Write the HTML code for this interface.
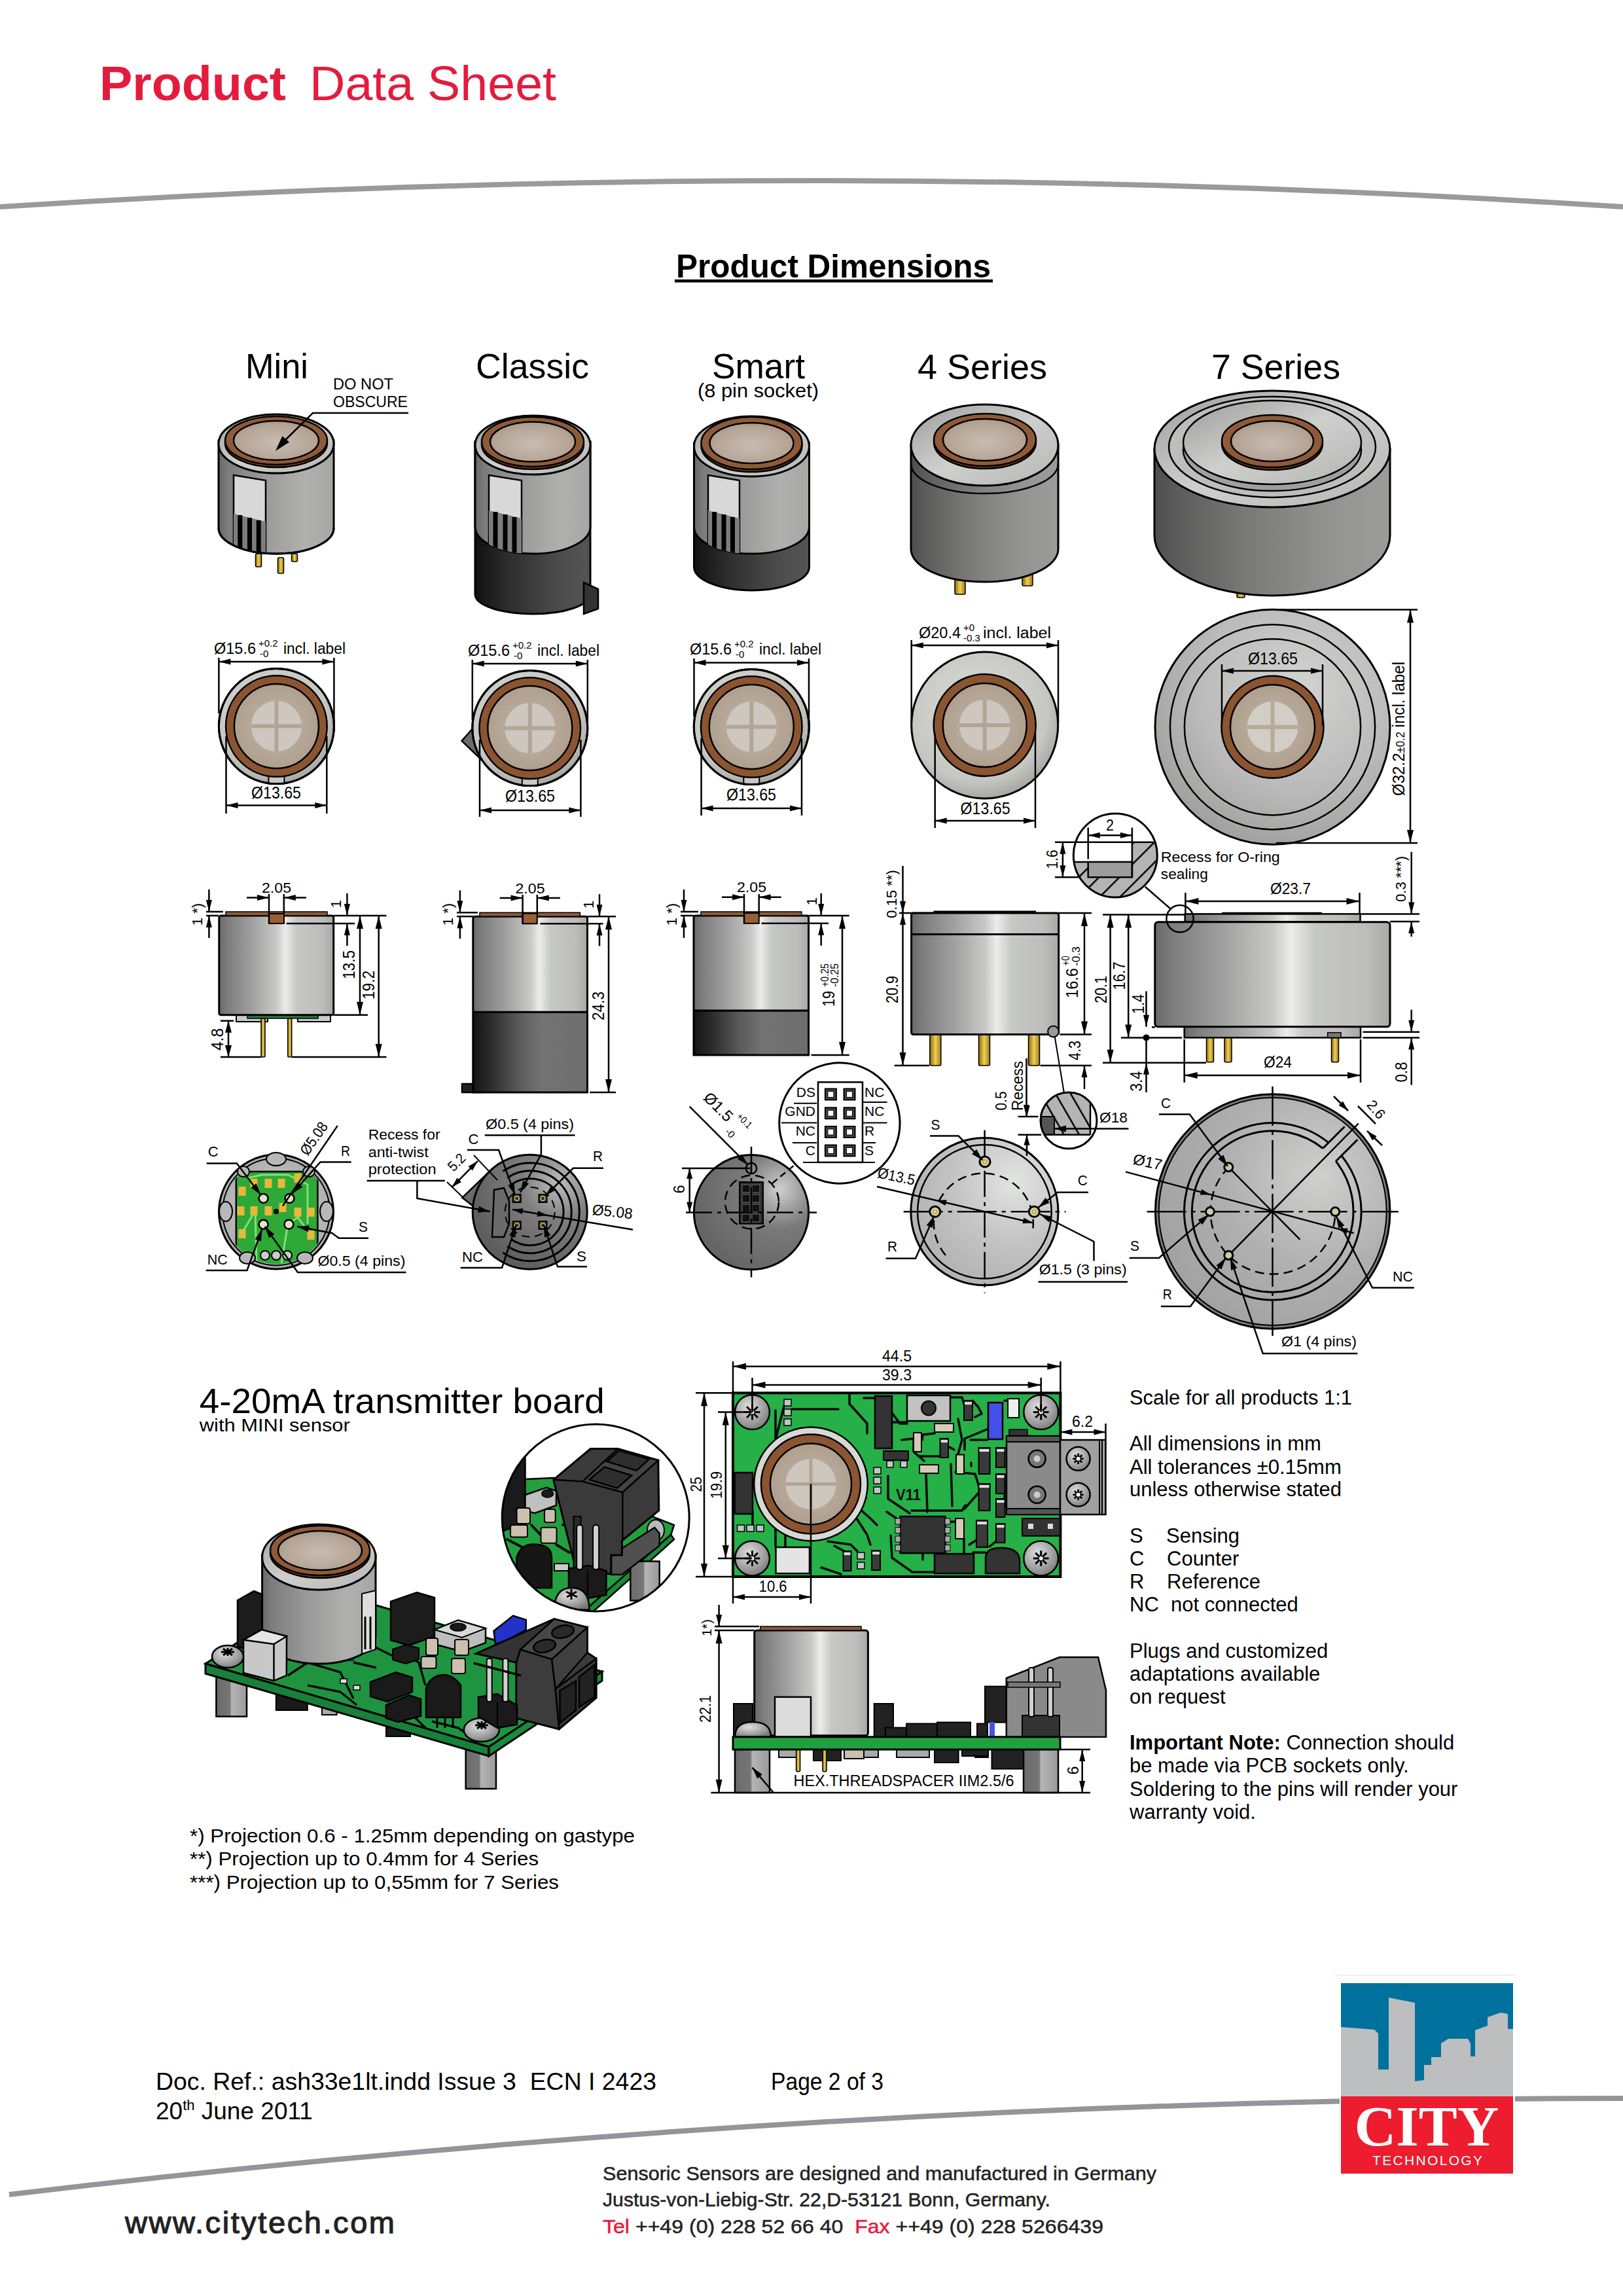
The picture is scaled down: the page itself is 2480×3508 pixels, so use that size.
<!DOCTYPE html>
<html><head><meta charset="utf-8"><style>
html,body{margin:0;padding:0;background:#fff;width:2480px;height:3508px;overflow:hidden}
svg{display:block}
</style></head><body>
<svg width="2480" height="3508" viewBox="0 0 2480 3508">
<defs>

<linearGradient id="gBody" x1="0" x2="1" y1="0" y2="0">
 <stop offset="0" stop-color="#686868"/><stop offset="0.08" stop-color="#7c7c7c"/>
 <stop offset="0.4" stop-color="#9a9a9a"/><stop offset="0.75" stop-color="#b0b0ae"/>
 <stop offset="1" stop-color="#a6a6a4"/>
</linearGradient>
<linearGradient id="gBody7" x1="0" x2="1" y1="0" y2="0">
 <stop offset="0" stop-color="#4e4e4e"/><stop offset="0.1" stop-color="#5c5c5c"/>
 <stop offset="0.4" stop-color="#7a7a78"/><stop offset="0.75" stop-color="#939391"/>
 <stop offset="1" stop-color="#9c9c9a"/>
</linearGradient>
<linearGradient id="gDark" x1="0" x2="1" y1="0" y2="0">
 <stop offset="0" stop-color="#111"/><stop offset="0.3" stop-color="#2e2e2e"/>
 <stop offset="0.7" stop-color="#4a4a4a"/><stop offset="1" stop-color="#555"/>
</linearGradient>
<linearGradient id="gRim" x1="0" x2="1" y1="0" y2="1">
 <stop offset="0" stop-color="#9c9c9c"/><stop offset="0.5" stop-color="#cfcfcd"/><stop offset="1" stop-color="#b5b5b3"/>
</linearGradient>
<radialGradient id="gFilt" cx="0.5" cy="0.55" r="0.6">
 <stop offset="0" stop-color="#c8bcb2"/><stop offset="0.7" stop-color="#b6a698"/><stop offset="1" stop-color="#a89686"/>
</radialGradient>
<linearGradient id="gSide" x1="0" x2="1" y1="0" y2="0">
 <stop offset="0" stop-color="#6e6e6e"/><stop offset="0.1" stop-color="#8e8e8e"/>
 <stop offset="0.42" stop-color="#b8b8b6"/><stop offset="0.55" stop-color="#e6e6e4"/>
 <stop offset="0.68" stop-color="#b0b0ae"/><stop offset="1" stop-color="#8a8a88"/>
</linearGradient>
<linearGradient id="gSideDark" x1="0" x2="1" y1="0" y2="0">
 <stop offset="0" stop-color="#2a2a2a"/><stop offset="0.5" stop-color="#4a4a4a"/>
 <stop offset="0.6" stop-color="#5a5a5a"/><stop offset="1" stop-color="#3a3a3a"/>
</linearGradient>
<linearGradient id="gGold" x1="0" x2="1" y1="0" y2="0">
 <stop offset="0" stop-color="#8a6a10"/><stop offset="0.5" stop-color="#f0d050"/><stop offset="1" stop-color="#9a7a20"/>
</linearGradient>

<radialGradient id="gTopRim" cx="0.45" cy="0.4" r="0.6">
 <stop offset="0" stop-color="#dcdcd8"/><stop offset="0.8" stop-color="#c6c6c2"/><stop offset="1" stop-color="#a8a8a4"/>
</radialGradient>
<radialGradient id="gFilt2" cx="0.5" cy="0.5" r="0.55">
 <stop offset="0" stop-color="#c2b6a8"/><stop offset="1" stop-color="#ad9d8c"/>
</radialGradient>
<radialGradient id="gTop7" cx="0.6" cy="0.35" r="0.7">
 <stop offset="0" stop-color="#d4d4d2"/><stop offset="0.6" stop-color="#bababa"/><stop offset="1" stop-color="#9e9e9c"/>
</radialGradient>

<linearGradient id="gS" x1="0" x2="1" y1="0" y2="0">
 <stop offset="0" stop-color="#6a6a6a"/><stop offset="0.08" stop-color="#7e7e7e"/>
 <stop offset="0.3" stop-color="#a2a2a2"/><stop offset="0.5" stop-color="#c8c8c6"/>
 <stop offset="0.58" stop-color="#ececea"/><stop offset="0.68" stop-color="#c6c8c4"/>
 <stop offset="0.9" stop-color="#bdbdbb"/><stop offset="1" stop-color="#a8a8a6"/>
</linearGradient>
<linearGradient id="gSD" x1="0" x2="1" y1="0" y2="0">
 <stop offset="0" stop-color="#141414"/><stop offset="0.15" stop-color="#2a2a2a"/>
 <stop offset="0.4" stop-color="#5a5a5a"/><stop offset="0.6" stop-color="#737373"/>
 <stop offset="1" stop-color="#6e6e6e"/>
</linearGradient>
<pattern id="hatch" patternUnits="userSpaceOnUse" width="22" height="22" patternTransform="rotate(45)">
 <rect width="22" height="22" fill="#b4b4b4"/><rect width="2.5" height="22" fill="#000"/>
</pattern>
<pattern id="hatch2" patternUnits="userSpaceOnUse" width="20" height="20" patternTransform="rotate(-30)">
 <rect width="20" height="20" fill="#b4b4b4"/><rect width="2.5" height="20" fill="#000"/>
</pattern>

<radialGradient id="gB4" cx="0.7" cy="0.3" r="0.8">
 <stop offset="0" stop-color="#e2e4e2"/><stop offset="0.5" stop-color="#c4c4c4"/><stop offset="1" stop-color="#b0b0b0"/>
</radialGradient>
<radialGradient id="gBS" cx="0.75" cy="0.3" r="0.75">
 <stop offset="0" stop-color="#cfcfcf"/><stop offset="0.45" stop-color="#7a7a7a"/><stop offset="1" stop-color="#666"/>
</radialGradient>
<radialGradient id="gBC" cx="0.75" cy="0.25" r="0.8">
 <stop offset="0" stop-color="#bdbdbd"/><stop offset="0.4" stop-color="#7e7e7e"/><stop offset="1" stop-color="#5e5e5e"/>
</radialGradient>
<radialGradient id="gB7" cx="0.7" cy="0.35" r="0.8">
 <stop offset="0" stop-color="#cfd0ce"/><stop offset="0.5" stop-color="#b0b0b0"/><stop offset="1" stop-color="#a0a0a0"/>
</radialGradient>
<radialGradient id="gBM" cx="0.5" cy="0.5" r="0.55">
 <stop offset="0" stop-color="#d8d8d8"/><stop offset="1" stop-color="#a8a8a8"/>
</radialGradient>

<radialGradient id="gScrew" cx="0.4" cy="0.35" r="0.7">
 <stop offset="0" stop-color="#e0e0e0"/><stop offset="0.7" stop-color="#9a9a9a"/><stop offset="1" stop-color="#777"/>
</radialGradient>
<linearGradient id="gStand" x1="0" x2="1" y1="0" y2="0">
 <stop offset="0" stop-color="#6a6a6a"/><stop offset="0.45" stop-color="#777"/><stop offset="0.5" stop-color="#b5b5b5"/><stop offset="1" stop-color="#9a9a9a"/>
</linearGradient>
<linearGradient id="gTB" x1="0" x2="1" y1="0" y2="0">
 <stop offset="0" stop-color="#8a8a8a"/><stop offset="1" stop-color="#9a9a9a"/>
</linearGradient>

</defs>
<text x="152" y="153" font-size="75" font-family="Liberation Sans" fill="#e31c3d" font-weight="bold" textLength="285" lengthAdjust="spacingAndGlyphs" >Product</text>
<text x="473" y="153" font-size="75" font-family="Liberation Sans" fill="#e31c3d" textLength="377" lengthAdjust="spacingAndGlyphs" >Data Sheet</text>
<path d="M0,316 Q1240,236 2480,316" fill="none" stroke="#9a9a9a" stroke-width="8" />
<text x="1033" y="424" font-size="50" font-family="Liberation Sans" fill="#000" font-weight="bold" textLength="481" lengthAdjust="spacingAndGlyphs" >Product Dimensions</text>
<rect x="1031" y="427" width="486" height="4.5" fill="#000"/>
<text x="375" y="578" font-size="53" font-family="Liberation Sans" fill="#000" textLength="96" lengthAdjust="spacingAndGlyphs" >Mini</text>
<text x="509" y="595" font-size="23" font-family="Liberation Sans" fill="#000" textLength="92" lengthAdjust="spacingAndGlyphs" >DO NOT</text>
<text x="509" y="622" font-size="23" font-family="Liberation Sans" fill="#000" textLength="114" lengthAdjust="spacingAndGlyphs" >OBSCURE</text>
<text x="727" y="578" font-size="53" font-family="Liberation Sans" fill="#000" textLength="173" lengthAdjust="spacingAndGlyphs" >Classic</text>
<text x="1088" y="578" font-size="53" font-family="Liberation Sans" fill="#000" textLength="142" lengthAdjust="spacingAndGlyphs" >Smart</text>
<text x="1066" y="607" font-size="29" font-family="Liberation Sans" fill="#000" textLength="185" lengthAdjust="spacingAndGlyphs" >(8 pin socket)</text>
<text x="1402" y="579" font-size="53" font-family="Liberation Sans" fill="#000" textLength="198" lengthAdjust="spacingAndGlyphs" >4 Series</text>
<text x="1851" y="579" font-size="53" font-family="Liberation Sans" fill="#000" textLength="197" lengthAdjust="spacingAndGlyphs" >7 Series</text>
<path d="M334,673 L334,807 A88,39 0 0 0 510,807 L510,673 Z" fill="url(#gBody)" stroke="#000" stroke-width="3" />
<clipPath id="lbc1"><path d="M334,673 L334,807 A88,39 0 0 0 510,807 L510,673 Z"/></clipPath>
<g clip-path="url(#lbc1)">
<path d="M357,726 L406,734 L406,850 L357,850 Z" fill="#d8d8d8" stroke="#000" stroke-width="2.5"/>
<path d="M357,785 L406,797 L406,850 L357,850 Z" fill="#7d7d7d"/>
<rect x="363.3" y="787" width="7" height="59" fill="#000"/>
<rect x="378.0" y="791" width="7" height="59" fill="#000"/>
<rect x="391.72" y="795" width="7" height="59" fill="#000"/>
</g>
<path d="M334,807 A88,39 0 0 0 510,807" fill="none" stroke="#000" stroke-width="3" />
<rect x="390.5" y="846" width="9" height="20" rx="2" fill="url(#gGold)" stroke="#000" stroke-width="1.5"/>
<rect x="424.5" y="852" width="9" height="24" rx="2" fill="url(#gGold)" stroke="#000" stroke-width="1.5"/>
<rect x="445.5" y="846" width="9" height="12" rx="2" fill="url(#gGold)" stroke="#000" stroke-width="1.5"/>
<ellipse cx="422" cy="678" rx="88" ry="45" fill="url(#gRim)" stroke="#000" stroke-width="3" />
<ellipse cx="422" cy="677" rx="78" ry="37" fill="#6b4028" stroke="#000" stroke-width="2.5" />
<ellipse cx="422" cy="673" rx="78" ry="37" fill="#8f5a38" stroke="#000" stroke-width="2.5" />
<ellipse cx="422" cy="673" rx="65" ry="30" fill="url(#gFilt)" stroke="#000" stroke-width="2.5" />
<path d="M624,631 L478,631 L428,680" fill="none" stroke="#000" stroke-width="2.5" />
<polygon points="421.0,689.0 431.4,666.3 442.0,675.4" fill="#000"/>
<path d="M726,675 L726,908 A88,30 0 0 0 902,908 L902,675 Z" fill="url(#gDark)" stroke="#000" stroke-width="3" />
<polygon points="892,890 914,900 914,930 892,938" fill="#333" stroke="#000" stroke-width="2.5"/>
<path d="M726,675 L726,805 A88,41 0 0 0 902,805 L902,675 Z" fill="url(#gBody)" stroke="#000" stroke-width="3" />
<clipPath id="lbc2"><path d="M726,675 L726,805 A88,41 0 0 0 902,805 L902,675 Z"/></clipPath>
<g clip-path="url(#lbc2)">
<path d="M747,726 L797,734 L797,850 L747,850 Z" fill="#d8d8d8" stroke="#000" stroke-width="2.5"/>
<path d="M747,780 L797,792 L797,850 L747,850 Z" fill="#7d7d7d"/>
<rect x="753.5" y="782" width="7" height="64" fill="#000"/>
<rect x="768.5" y="786" width="7" height="64" fill="#000"/>
<rect x="782.5" y="790" width="7" height="64" fill="#000"/>
</g>
<ellipse cx="814" cy="680" rx="88" ry="45" fill="url(#gRim)" stroke="#000" stroke-width="3" />
<ellipse cx="814" cy="679" rx="78" ry="38" fill="#6b4028" stroke="#000" stroke-width="2.5" />
<ellipse cx="814" cy="675" rx="78" ry="38" fill="#8f5a38" stroke="#000" stroke-width="2.5" />
<ellipse cx="814" cy="675" rx="65" ry="30.5" fill="url(#gFilt)" stroke="#000" stroke-width="2.5" />
<path d="M1060.5,677 L1060.5,866 A88,36 0 0 0 1236.5,866 L1236.5,677 Z" fill="url(#gDark)" stroke="#000" stroke-width="3" />
<path d="M1060.5,677 L1060.5,805 A88,41 0 0 0 1236.5,805 L1236.5,677 Z" fill="url(#gBody)" stroke="#000" stroke-width="3" />
<clipPath id="lbc3"><path d="M1060.5,677 L1060.5,805 A88,41 0 0 0 1236.5,805 L1236.5,677 Z"/></clipPath>
<g clip-path="url(#lbc3)">
<path d="M1082,726 L1130,734 L1130,850 L1082,850 Z" fill="#d8d8d8" stroke="#000" stroke-width="2.5"/>
<path d="M1082,780 L1130,792 L1130,850 L1082,850 Z" fill="#7d7d7d"/>
<rect x="1088.1" y="782" width="7" height="64" fill="#000"/>
<rect x="1102.5" y="786" width="7" height="64" fill="#000"/>
<rect x="1115.94" y="790" width="7" height="64" fill="#000"/>
</g>
<ellipse cx="1148.5" cy="682" rx="88" ry="46" fill="url(#gRim)" stroke="#000" stroke-width="3" />
<ellipse cx="1148.5" cy="681" rx="77" ry="40" fill="#6b4028" stroke="#000" stroke-width="2.5" />
<ellipse cx="1148.5" cy="677" rx="77" ry="40" fill="#8f5a38" stroke="#000" stroke-width="2.5" />
<ellipse cx="1148.5" cy="677" rx="64" ry="31" fill="url(#gFilt)" stroke="#000" stroke-width="2.5" />
<rect x="1459.0" y="870" width="16" height="38" rx="2" fill="url(#gGold)" stroke="#000" stroke-width="1.5"/>
<rect x="1562.0" y="860" width="16" height="35" rx="2" fill="url(#gGold)" stroke="#000" stroke-width="1.5"/>
<path d="M1392.0,680 L1392.0,839 A112.5,50 0 0 0 1617.0,839 L1617.0,680 Z" fill="url(#gBody7)" stroke="#000" stroke-width="3" />
<path d="M1392.0,709 A112.5,45 0 0 0 1617.0,709" fill="none" stroke="#000" stroke-width="2.5" />
<ellipse cx="1504.5" cy="680" rx="112.5" ry="62" fill="url(#gRim)" stroke="#000" stroke-width="3" />
<ellipse cx="1505" cy="676" rx="78" ry="40" fill="#6b4028" stroke="#000" stroke-width="2.5" />
<ellipse cx="1505" cy="672" rx="78" ry="40" fill="#8f5a38" stroke="#000" stroke-width="2.5" />
<ellipse cx="1505" cy="672" rx="64" ry="32" fill="url(#gFilt)" stroke="#000" stroke-width="2.5" />
<rect x="1890.0" y="890" width="12" height="23" rx="2" fill="url(#gGold)" stroke="#000" stroke-width="1.5"/>
<path d="M1764,686 L1764,818 A180,92 0 0 0 2124,818 L2124,686 Z" fill="url(#gBody7)" stroke="#000" stroke-width="3" />
<ellipse cx="1944" cy="686" rx="180" ry="89" fill="url(#gRim)" stroke="#000" stroke-width="3" />
<ellipse cx="1944" cy="683" rx="158" ry="77" fill="#bdbdbb" stroke="#000" stroke-width="2.5" />
<ellipse cx="1944" cy="688" rx="136" ry="62" fill="#9f9f9d" stroke="#000" stroke-width="2.5" />
<ellipse cx="1944" cy="676" rx="136" ry="64" fill="url(#gRim)" stroke="#000" stroke-width="2.5" />
<ellipse cx="1944" cy="678" rx="77" ry="40" fill="#6b4028" stroke="#000" stroke-width="2.5" />
<ellipse cx="1944" cy="674" rx="77" ry="40" fill="#8f5a38" stroke="#000" stroke-width="2.5" />
<ellipse cx="1944" cy="674" rx="63" ry="31" fill="url(#gFilt)" stroke="#000" stroke-width="2.5" />
<line x1="334.4" y1="1005" x2="334.4" y2="1090" stroke="#000" stroke-width="2.5" />
<line x1="510.4" y1="1005" x2="510.4" y2="1118" stroke="#000" stroke-width="2.5" />
<circle cx="422.4" cy="1109.5" r="88" fill="url(#gTopRim)" stroke="#000" stroke-width="3" />
<rect x="410.4" y="1184.5" width="24" height="13" fill="#c8c8c4" stroke="#000" stroke-width="2"/>
<circle cx="422.4" cy="1109.5" r="88" fill="none" stroke="#000" stroke-width="3" />
<circle cx="422.4" cy="1109.5" r="70.9" fill="none" stroke="#8a5530" stroke-width="12.799999999999997" />
<circle cx="422.4" cy="1109.5" r="77.3" fill="none" stroke="#000" stroke-width="2.5" />
<circle cx="422.4" cy="1109.5" r="64.5" fill="url(#gFilt2)" stroke="#000" stroke-width="2.5" />
<circle cx="422.4" cy="1109.5" r="38.699999999999996" fill="#cdc7bf" stroke="none" stroke-width="0" />
<rect x="419.4" y="1070.8" width="6" height="77.39999999999999" fill="#b3a596"/>
<rect x="383.7" y="1106.5" width="77.39999999999999" height="6" fill="#b3a596"/>
<line x1="334.4" y1="1011" x2="510.4" y2="1011" stroke="#000" stroke-width="2.5" />
<polygon points="510.4,1011.0 492.4,1015.5 492.4,1006.5" fill="#000"/>
<polygon points="334.4,1011.0 352.4,1006.5 352.4,1015.5" fill="#000"/>
<text x="327" y="999" font-size="23" font-family="Liberation Sans" fill="#000" textLength="64" lengthAdjust="spacingAndGlyphs" >Ø15.6</text>
<text x="395" y="988" font-size="15" font-family="Liberation Sans" fill="#000" >+0.2</text>
<text x="397" y="1004" font-size="15" font-family="Liberation Sans" fill="#000" >-0</text>
<text x="433" y="999" font-size="23" font-family="Liberation Sans" fill="#000" textLength="95" lengthAdjust="spacingAndGlyphs" >incl. label</text>
<line x1="345.5" y1="1125" x2="345.5" y2="1243" stroke="#000" stroke-width="2.5" />
<line x1="499.3" y1="1125" x2="499.3" y2="1243" stroke="#000" stroke-width="2.5" />
<line x1="345.5" y1="1230.6" x2="499.3" y2="1230.6" stroke="#000" stroke-width="2.5" />
<polygon points="499.3,1230.6 481.3,1235.1 481.3,1226.1" fill="#000"/>
<polygon points="345.5,1230.6 363.5,1226.1 363.5,1235.1" fill="#000"/>
<text x="384" y="1219.5" font-size="26" font-family="Liberation Sans" fill="#000" textLength="76" lengthAdjust="spacingAndGlyphs" >Ø13.65</text>
<polygon points="705.5,1132 725,1110 740,1165" fill="#6a6a6a" stroke="#000" stroke-width="2.5"/>
<line x1="721.8" y1="1008" x2="721.8" y2="1100" stroke="#000" stroke-width="2.5" />
<line x1="897.8" y1="1008" x2="897.8" y2="1120" stroke="#000" stroke-width="2.5" />
<circle cx="809.8" cy="1112.6" r="88" fill="url(#gTopRim)" stroke="#000" stroke-width="3" />
<rect x="797.8" y="1187.6" width="24" height="13" fill="#c8c8c4" stroke="#000" stroke-width="2"/>
<circle cx="809.8" cy="1112.6" r="88" fill="none" stroke="#000" stroke-width="3" />
<circle cx="809.8" cy="1112.6" r="70.9" fill="none" stroke="#8a5530" stroke-width="12.799999999999997" />
<circle cx="809.8" cy="1112.6" r="77.3" fill="none" stroke="#000" stroke-width="2.5" />
<circle cx="809.8" cy="1112.6" r="64.5" fill="url(#gFilt2)" stroke="#000" stroke-width="2.5" />
<circle cx="809.8" cy="1112.6" r="38.699999999999996" fill="#cdc7bf" stroke="none" stroke-width="0" />
<rect x="806.8" y="1073.8999999999999" width="6" height="77.39999999999999" fill="#b3a596"/>
<rect x="771.0999999999999" y="1109.6" width="77.39999999999999" height="6" fill="#b3a596"/>
<line x1="721.8" y1="1014" x2="897.8" y2="1014" stroke="#000" stroke-width="2.5" />
<polygon points="897.8,1014.0 879.8,1018.5 879.8,1009.5" fill="#000"/>
<polygon points="721.8,1014.0 739.8,1009.5 739.8,1018.5" fill="#000"/>
<text x="715" y="1002" font-size="23" font-family="Liberation Sans" fill="#000" textLength="64" lengthAdjust="spacingAndGlyphs" >Ø15.6</text>
<text x="783" y="991" font-size="15" font-family="Liberation Sans" fill="#000" >+0.2</text>
<text x="785" y="1007" font-size="15" font-family="Liberation Sans" fill="#000" >-0</text>
<text x="821" y="1002" font-size="23" font-family="Liberation Sans" fill="#000" textLength="95" lengthAdjust="spacingAndGlyphs" >incl. label</text>
<line x1="733" y1="1130" x2="733" y2="1248" stroke="#000" stroke-width="2.5" />
<line x1="887.4" y1="1130" x2="887.4" y2="1248" stroke="#000" stroke-width="2.5" />
<line x1="733" y1="1238" x2="887.4" y2="1238" stroke="#000" stroke-width="2.5" />
<polygon points="887.4,1238.0 869.4,1242.5 869.4,1233.5" fill="#000"/>
<polygon points="733.0,1238.0 751.0,1233.5 751.0,1242.5" fill="#000"/>
<text x="772" y="1224.7" font-size="26" font-family="Liberation Sans" fill="#000" textLength="76" lengthAdjust="spacingAndGlyphs" >Ø13.65</text>
<line x1="1060.5" y1="1006" x2="1060.5" y2="1095" stroke="#000" stroke-width="2.5" />
<line x1="1236" y1="1006" x2="1236" y2="1118" stroke="#000" stroke-width="2.5" />
<circle cx="1148.3" cy="1110.5" r="88" fill="url(#gTopRim)" stroke="#000" stroke-width="3" />
<rect x="1136.3" y="1185.5" width="24" height="13" fill="#c8c8c4" stroke="#000" stroke-width="2"/>
<circle cx="1148.3" cy="1110.5" r="88" fill="none" stroke="#000" stroke-width="3" />
<circle cx="1148.3" cy="1110.5" r="70.9" fill="none" stroke="#8a5530" stroke-width="12.799999999999997" />
<circle cx="1148.3" cy="1110.5" r="77.3" fill="none" stroke="#000" stroke-width="2.5" />
<circle cx="1148.3" cy="1110.5" r="64.5" fill="url(#gFilt2)" stroke="#000" stroke-width="2.5" />
<circle cx="1148.3" cy="1110.5" r="38.699999999999996" fill="#cdc7bf" stroke="none" stroke-width="0" />
<rect x="1145.3" y="1071.8" width="6" height="77.39999999999999" fill="#b3a596"/>
<rect x="1109.6" y="1107.5" width="77.39999999999999" height="6" fill="#b3a596"/>
<line x1="1060.5" y1="1012.5" x2="1236" y2="1012.5" stroke="#000" stroke-width="2.5" />
<polygon points="1236.0,1012.5 1218.0,1017.0 1218.0,1008.0" fill="#000"/>
<polygon points="1060.5,1012.5 1078.5,1008.0 1078.5,1017.0" fill="#000"/>
<text x="1054" y="1000" font-size="23" font-family="Liberation Sans" fill="#000" textLength="64" lengthAdjust="spacingAndGlyphs" >Ø15.6</text>
<text x="1122" y="989" font-size="15" font-family="Liberation Sans" fill="#000" >+0.2</text>
<text x="1124" y="1005" font-size="15" font-family="Liberation Sans" fill="#000" >-0</text>
<text x="1160" y="1000" font-size="23" font-family="Liberation Sans" fill="#000" textLength="95" lengthAdjust="spacingAndGlyphs" >incl. label</text>
<line x1="1071.6" y1="1128" x2="1071.6" y2="1246" stroke="#000" stroke-width="2.5" />
<line x1="1225" y1="1128" x2="1225" y2="1246" stroke="#000" stroke-width="2.5" />
<line x1="1071.6" y1="1235" x2="1225" y2="1235" stroke="#000" stroke-width="2.5" />
<polygon points="1225.0,1235.0 1207.0,1239.5 1207.0,1230.5" fill="#000"/>
<polygon points="1071.6,1235.0 1089.6,1230.5 1089.6,1239.5" fill="#000"/>
<text x="1110" y="1223" font-size="26" font-family="Liberation Sans" fill="#000" textLength="76" lengthAdjust="spacingAndGlyphs" >Ø13.65</text>
<line x1="1392.7" y1="978" x2="1392.7" y2="1105" stroke="#000" stroke-width="2.5" />
<line x1="1617" y1="978" x2="1617" y2="1105" stroke="#000" stroke-width="2.5" />
<circle cx="1504.7" cy="1108" r="112" fill="url(#gTopRim)" stroke="#000" stroke-width="3" />
<circle cx="1504.7" cy="1108" r="71" fill="none" stroke="#8a5530" stroke-width="14" />
<circle cx="1504.7" cy="1108" r="78" fill="none" stroke="#000" stroke-width="2.5" />
<circle cx="1504.7" cy="1108" r="64" fill="url(#gFilt2)" stroke="#000" stroke-width="2.5" />
<circle cx="1504.7" cy="1108" r="39" fill="#cdc7bf" stroke="none" stroke-width="0" />
<rect x="1501.7" y="1069" width="6" height="78" fill="#b3a596"/>
<rect x="1465.7" y="1105" width="78" height="6" fill="#b3a596"/>
<line x1="1392.7" y1="986" x2="1617" y2="986" stroke="#000" stroke-width="2.5" />
<polygon points="1617.0,986.0 1599.0,990.5 1599.0,981.5" fill="#000"/>
<polygon points="1392.7,986.0 1410.7,981.5 1410.7,990.5" fill="#000"/>
<text x="1404" y="975" font-size="23" font-family="Liberation Sans" fill="#000" textLength="64" lengthAdjust="spacingAndGlyphs" >Ø20.4</text>
<text x="1472" y="964" font-size="15" font-family="Liberation Sans" fill="#000" >+0</text>
<text x="1472" y="980" font-size="15" font-family="Liberation Sans" fill="#000" >-0.3</text>
<text x="1502" y="975" font-size="23" font-family="Liberation Sans" fill="#000" textLength="104" lengthAdjust="spacingAndGlyphs" >incl. label</text>
<line x1="1428.7" y1="1120" x2="1428.7" y2="1265" stroke="#000" stroke-width="2.5" />
<line x1="1582" y1="1120" x2="1582" y2="1265" stroke="#000" stroke-width="2.5" />
<line x1="1428.7" y1="1254" x2="1582" y2="1254" stroke="#000" stroke-width="2.5" />
<polygon points="1582.0,1254.0 1564.0,1258.5 1564.0,1249.5" fill="#000"/>
<polygon points="1428.7,1254.0 1446.7,1249.5 1446.7,1258.5" fill="#000"/>
<text x="1467.6" y="1244" font-size="26" font-family="Liberation Sans" fill="#000" textLength="76" lengthAdjust="spacingAndGlyphs" >Ø13.65</text>
<circle cx="1944.5" cy="1110.8" r="179.5" fill="url(#gTop7)" stroke="#000" stroke-width="3" />
<circle cx="1944.5" cy="1110.8" r="156.6" fill="none" stroke="#000" stroke-width="2.5" />
<circle cx="1944.5" cy="1110.8" r="134.6" fill="none" stroke="#000" stroke-width="2.5" />
<circle cx="1944.5" cy="1110.8" r="71" fill="none" stroke="#8a5530" stroke-width="13" />
<circle cx="1944.5" cy="1110.8" r="78" fill="none" stroke="#000" stroke-width="2.5" />
<circle cx="1944.5" cy="1110.8" r="64.5" fill="url(#gFilt2)" stroke="#000" stroke-width="2.5" />
<circle cx="1944.5" cy="1110.8" r="39" fill="#d2cdc5" stroke="none" stroke-width="0" />
<rect x="1941.5" y="1071.8" width="6" height="78" fill="#b8aa9a"/>
<rect x="1905.5" y="1107.8" width="78" height="6" fill="#b8aa9a"/>
<line x1="1867" y1="1015" x2="1867" y2="1108" stroke="#000" stroke-width="2.5" />
<line x1="2021" y1="1015" x2="2021" y2="1108" stroke="#000" stroke-width="2.5" />
<line x1="1867" y1="1025" x2="2021" y2="1025" stroke="#000" stroke-width="2.5" />
<polygon points="2021.0,1025.0 2003.0,1029.5 2003.0,1020.5" fill="#000"/>
<polygon points="1867.0,1025.0 1885.0,1020.5 1885.0,1029.5" fill="#000"/>
<text x="1907" y="1015" font-size="26" font-family="Liberation Sans" fill="#000" textLength="76" lengthAdjust="spacingAndGlyphs" >Ø13.65</text>
<line x1="1950" y1="931.6" x2="2166" y2="931.6" stroke="#000" stroke-width="2.5" />
<line x1="1950" y1="1288" x2="2166" y2="1288" stroke="#000" stroke-width="2.5" />
<line x1="2155" y1="931.6" x2="2155" y2="1288" stroke="#000" stroke-width="2.5" />
<polygon points="2155.0,1288.0 2150.0,1268.0 2160.0,1268.0" fill="#000"/>
<polygon points="2155.0,931.6 2160.0,951.6 2150.0,951.6" fill="#000"/>
<text x="0" y="0" font-size="26" font-family="Liberation Sans" transform="translate(2146 1216) rotate(-90)" textLength="205" lengthAdjust="spacingAndGlyphs">Ø32.2<tspan font-size="18">±0.2</tspan> incl. label</text>
<rect x="362" y="1544" width="40" height="9" fill="#bbb" stroke="#000" stroke-width="2"/>
<rect x="405" y="1544" width="32" height="9" fill="#bbb" stroke="#000" stroke-width="2"/>
<rect x="361" y="1551" width="48" height="10" fill="#ccc" stroke="#000" stroke-width="2"/>
<rect x="455" y="1551" width="50" height="10" fill="#ccc" stroke="#000" stroke-width="2"/>
<rect x="378" y="1551" width="108" height="5" fill="#2a7a3a" stroke="#000" stroke-width="1.5"/>
<rect x="399.0" y="1556" width="6" height="59" rx="2" fill="url(#gGold)" stroke="#000" stroke-width="1.5"/>
<rect x="439.7" y="1556" width="6" height="59" rx="2" fill="url(#gGold)" stroke="#000" stroke-width="1.5"/>
<rect x="334.8" y="1399" width="174.89999999999998" height="151.79999999999995" rx="3" fill="url(#gS)" stroke="#000" stroke-width="3"/>
<rect x="345" y="1393" width="155" height="6" fill="#8b5a38" stroke="#000" stroke-width="1.5"/>
<rect x="411" y="1396" width="23" height="15" fill="#9a5f36" stroke="#000" stroke-width="2"/>
<text x="400" y="1363.5" font-size="22" font-family="Liberation Sans" fill="#000" textLength="45" lengthAdjust="spacingAndGlyphs" >2.05</text>
<line x1="411" y1="1366" x2="411" y2="1411" stroke="#000" stroke-width="2.5" />
<line x1="433.8" y1="1366" x2="433.8" y2="1396" stroke="#000" stroke-width="2.5" />
<line x1="377" y1="1371.4" x2="411" y2="1371.4" stroke="#000" stroke-width="2.5" />
<polygon points="411.0,1371.4 393.0,1375.9 393.0,1366.9" fill="#000"/>
<line x1="433.8" y1="1371.4" x2="467.8" y2="1371.4" stroke="#000" stroke-width="2.5" />
<polygon points="433.8,1371.4 451.8,1366.9 451.8,1375.9" fill="#000"/>
<line x1="315" y1="1393" x2="341" y2="1393" stroke="#000" stroke-width="2.5" />
<line x1="315" y1="1399" x2="334" y2="1399" stroke="#000" stroke-width="2.5" />
<line x1="319.4" y1="1359" x2="319.4" y2="1393" stroke="#000" stroke-width="2.5" />
<polygon points="319.4,1393.0 314.9,1375.0 323.9,1375.0" fill="#000"/>
<line x1="319.4" y1="1399" x2="319.4" y2="1433" stroke="#000" stroke-width="2.5" />
<polygon points="319.4,1399.0 323.9,1417.0 314.9,1417.0" fill="#000"/>
<text x="0" y="0" font-size="22" font-family="Liberation Sans" text-anchor="middle" transform="translate(309 1397) rotate(-90)" >1 *)</text>
<line x1="509.7" y1="1399" x2="590.5" y2="1399" stroke="#000" stroke-width="2.5" />
<line x1="437.7" y1="1411" x2="542" y2="1411" stroke="#000" stroke-width="2.5" />
<line x1="530.4" y1="1365" x2="530.4" y2="1399" stroke="#000" stroke-width="2.5" />
<polygon points="530.4,1399.0 525.9,1381.0 534.9,1381.0" fill="#000"/>
<line x1="530.4" y1="1411" x2="530.4" y2="1445" stroke="#000" stroke-width="2.5" />
<polygon points="530.4,1411.0 534.9,1429.0 525.9,1429.0" fill="#000"/>
<text x="0" y="0" font-size="22" font-family="Liberation Sans" text-anchor="middle" transform="translate(521 1381) rotate(-90)" >1</text>
<line x1="509.7" y1="1550.8" x2="562" y2="1550.8" stroke="#000" stroke-width="2.5" />
<line x1="550" y1="1399" x2="550" y2="1550.8" stroke="#000" stroke-width="2.5" />
<polygon points="550.0,1550.8 545.0,1530.8 555.0,1530.8" fill="#000"/>
<polygon points="550.0,1399.0 555.0,1419.0 545.0,1419.0" fill="#000"/>
<text x="0" y="0" font-size="26" font-family="Liberation Sans" text-anchor="middle" textLength="44" lengthAdjust="spacingAndGlyphs" transform="translate(542 1474) rotate(-90)" >13.5</text>
<line x1="578.7" y1="1399" x2="578.7" y2="1615" stroke="#000" stroke-width="2.5" />
<polygon points="578.7,1615.0 573.7,1595.0 583.7,1595.0" fill="#000"/>
<polygon points="578.7,1399.0 583.7,1419.0 573.7,1419.0" fill="#000"/>
<text x="0" y="0" font-size="26" font-family="Liberation Sans" text-anchor="middle" textLength="44" lengthAdjust="spacingAndGlyphs" transform="translate(572 1505) rotate(-90)" >19.2</text>
<line x1="337" y1="1615" x2="399" y2="1615" stroke="#000" stroke-width="2.5" />
<line x1="446" y1="1615" x2="590.5" y2="1615" stroke="#000" stroke-width="2.5" />
<line x1="337" y1="1559.7" x2="357" y2="1559.7" stroke="#000" stroke-width="2.5" />
<line x1="349" y1="1559.7" x2="349" y2="1615" stroke="#000" stroke-width="2.5" />
<polygon points="349.0,1615.0 344.0,1597.0 354.0,1597.0" fill="#000"/>
<polygon points="349.0,1559.7 354.0,1577.7 344.0,1577.7" fill="#000"/>
<text x="0" y="0" font-size="26" font-family="Liberation Sans" text-anchor="middle" textLength="34" lengthAdjust="spacingAndGlyphs" transform="translate(341 1588) rotate(-90)" >4.8</text>
<rect x="706" y="1656" width="30" height="13" fill="#222" stroke="#000" stroke-width="2.5"/>
<rect x="722.8" y="1546.3" width="174.70000000000005" height="122.70000000000005" fill="url(#gSD)" stroke="#000" stroke-width="3"/>
<rect x="722.8" y="1400.2" width="174.70000000000005" height="146.0999999999999" rx="3" fill="url(#gS)" stroke="#000" stroke-width="3"/>
<rect x="733" y="1394.3" width="153.4" height="6" fill="#8b5a38" stroke="#000" stroke-width="1.5"/>
<rect x="798.6" y="1395.6" width="22.2" height="15.7" fill="#9a5f36" stroke="#000" stroke-width="2"/>
<text x="787.5" y="1365" font-size="22" font-family="Liberation Sans" fill="#000" textLength="45" lengthAdjust="spacingAndGlyphs" >2.05</text>
<line x1="798.6" y1="1367" x2="798.6" y2="1411" stroke="#000" stroke-width="2.5" />
<line x1="820.8" y1="1367" x2="820.8" y2="1396" stroke="#000" stroke-width="2.5" />
<line x1="763.6" y1="1372" x2="798.6" y2="1372" stroke="#000" stroke-width="2.5" />
<polygon points="798.6,1372.0 780.6,1376.5 780.6,1367.5" fill="#000"/>
<line x1="820.8" y1="1372" x2="855.8" y2="1372" stroke="#000" stroke-width="2.5" />
<polygon points="820.8,1372.0 838.8,1367.5 838.8,1376.5" fill="#000"/>
<line x1="698" y1="1394.3" x2="730" y2="1394.3" stroke="#000" stroke-width="2.5" />
<line x1="698" y1="1400.2" x2="722.8" y2="1400.2" stroke="#000" stroke-width="2.5" />
<line x1="702.9" y1="1360.3" x2="702.9" y2="1394.3" stroke="#000" stroke-width="2.5" />
<polygon points="702.9,1394.3 698.4,1376.3 707.4,1376.3" fill="#000"/>
<line x1="702.9" y1="1400.2" x2="702.9" y2="1434.2" stroke="#000" stroke-width="2.5" />
<polygon points="702.9,1400.2 707.4,1418.2 698.4,1418.2" fill="#000"/>
<text x="0" y="0" font-size="22" font-family="Liberation Sans" text-anchor="middle" transform="translate(692 1397) rotate(-90)" >1 *)</text>
<line x1="897.5" y1="1400.2" x2="941" y2="1400.2" stroke="#000" stroke-width="2.5" />
<line x1="825.4" y1="1411.3" x2="921.6" y2="1411.3" stroke="#000" stroke-width="2.5" />
<line x1="916" y1="1366.2" x2="916" y2="1400.2" stroke="#000" stroke-width="2.5" />
<polygon points="916.0,1400.2 911.5,1382.2 920.5,1382.2" fill="#000"/>
<line x1="916" y1="1411.3" x2="916" y2="1445.3" stroke="#000" stroke-width="2.5" />
<polygon points="916.0,1411.3 920.5,1429.3 911.5,1429.3" fill="#000"/>
<text x="0" y="0" font-size="22" font-family="Liberation Sans" text-anchor="middle" transform="translate(907 1382) rotate(-90)" >1</text>
<line x1="901" y1="1669" x2="941" y2="1669" stroke="#000" stroke-width="2.5" />
<line x1="930" y1="1400.2" x2="930" y2="1669" stroke="#000" stroke-width="2.5" />
<polygon points="930.0,1669.0 925.0,1649.0 935.0,1649.0" fill="#000"/>
<polygon points="930.0,1400.2 935.0,1420.2 925.0,1420.2" fill="#000"/>
<text x="0" y="0" font-size="26" font-family="Liberation Sans" text-anchor="middle" textLength="44" lengthAdjust="spacingAndGlyphs" transform="translate(923 1537) rotate(-90)" >24.3</text>
<rect x="1060" y="1544" width="175.5999999999999" height="68" fill="url(#gSD)" stroke="#000" stroke-width="3"/>
<rect x="1060" y="1399" width="175.5999999999999" height="145" rx="3" fill="url(#gS)" stroke="#000" stroke-width="3"/>
<rect x="1071" y="1393" width="153.8" height="6" fill="#8b5a38" stroke="#000" stroke-width="1.5"/>
<rect x="1137" y="1395" width="22.7" height="15.8" fill="#9a5f36" stroke="#000" stroke-width="2"/>
<text x="1126" y="1362.5" font-size="22" font-family="Liberation Sans" fill="#000" textLength="45" lengthAdjust="spacingAndGlyphs" >2.05</text>
<line x1="1137" y1="1366" x2="1137" y2="1411" stroke="#000" stroke-width="2.5" />
<line x1="1159.7" y1="1366" x2="1159.7" y2="1396" stroke="#000" stroke-width="2.5" />
<line x1="1103" y1="1370.8" x2="1137" y2="1370.8" stroke="#000" stroke-width="2.5" />
<polygon points="1137.0,1370.8 1119.0,1375.3 1119.0,1366.3" fill="#000"/>
<line x1="1159.7" y1="1370.8" x2="1193.7" y2="1370.8" stroke="#000" stroke-width="2.5" />
<polygon points="1159.7,1370.8 1177.7,1366.3 1177.7,1375.3" fill="#000"/>
<line x1="1040" y1="1393" x2="1067" y2="1393" stroke="#000" stroke-width="2.5" />
<line x1="1040" y1="1399" x2="1060" y2="1399" stroke="#000" stroke-width="2.5" />
<line x1="1045" y1="1359" x2="1045" y2="1393" stroke="#000" stroke-width="2.5" />
<polygon points="1045.0,1393.0 1040.5,1375.0 1049.5,1375.0" fill="#000"/>
<line x1="1045" y1="1399" x2="1045" y2="1433" stroke="#000" stroke-width="2.5" />
<polygon points="1045.0,1399.0 1049.5,1417.0 1040.5,1417.0" fill="#000"/>
<text x="0" y="0" font-size="22" font-family="Liberation Sans" text-anchor="middle" transform="translate(1034 1397) rotate(-90)" >1 *)</text>
<line x1="1235.6" y1="1399" x2="1297.7" y2="1399" stroke="#000" stroke-width="2.5" />
<line x1="1163.6" y1="1410.8" x2="1266" y2="1410.8" stroke="#000" stroke-width="2.5" />
<line x1="1254.7" y1="1365" x2="1254.7" y2="1399" stroke="#000" stroke-width="2.5" />
<polygon points="1254.7,1399.0 1250.2,1381.0 1259.2,1381.0" fill="#000"/>
<line x1="1254.7" y1="1410.8" x2="1254.7" y2="1444.8" stroke="#000" stroke-width="2.5" />
<polygon points="1254.7,1410.8 1259.2,1428.8 1250.2,1428.8" fill="#000"/>
<text x="0" y="0" font-size="22" font-family="Liberation Sans" text-anchor="middle" transform="translate(1248 1377) rotate(-90)" >1</text>
<line x1="1239.5" y1="1612" x2="1297.7" y2="1612" stroke="#000" stroke-width="2.5" />
<line x1="1287" y1="1399" x2="1287" y2="1612" stroke="#000" stroke-width="2.5" />
<polygon points="1287.0,1612.0 1282.0,1592.0 1292.0,1592.0" fill="#000"/>
<polygon points="1287.0,1399.0 1292.0,1419.0 1282.0,1419.0" fill="#000"/>
<text x="0" y="0" font-size="26" font-family="Liberation Sans" text-anchor="middle" textLength="24" lengthAdjust="spacingAndGlyphs" transform="translate(1275 1526) rotate(-90)" >19</text>
<text x="0" y="0" font-size="17" font-family="Liberation Sans" text-anchor="middle" textLength="36" lengthAdjust="spacingAndGlyphs" transform="translate(1266 1490) rotate(-90)" >+0.25</text>
<text x="0" y="0" font-size="17" font-family="Liberation Sans" text-anchor="middle" textLength="36" lengthAdjust="spacingAndGlyphs" transform="translate(1281 1490) rotate(-90)" >-0.25</text>
<rect x="1420.8" y="1578" width="17" height="50" rx="2" fill="url(#gGold)" stroke="#000" stroke-width="1.5"/>
<rect x="1495.5" y="1578" width="17" height="50" rx="2" fill="url(#gGold)" stroke="#000" stroke-width="1.5"/>
<rect x="1571.5" y="1578" width="17" height="50" rx="2" fill="url(#gGold)" stroke="#000" stroke-width="1.5"/>
<rect x="1392.6" y="1395" width="225.10000000000014" height="185.5999999999999" rx="3" fill="url(#gS)" stroke="#000" stroke-width="3"/>
<line x1="1392.6" y1="1427.5" x2="1617.7" y2="1427.5" stroke="#000" stroke-width="3" />
<line x1="1426.5" y1="1393.5" x2="1583" y2="1393.5" stroke="#000" stroke-width="4" />
<circle cx="1609.5" cy="1576" r="8.4" fill="#999" stroke="#000" stroke-width="2" />
<line x1="1611.7" y1="1584" x2="1626" y2="1670" stroke="#000" stroke-width="2" />
<line x1="1374" y1="1395" x2="1426.5" y2="1395" stroke="#000" stroke-width="2.5" />
<line x1="1366.6" y1="1628" x2="1420" y2="1628" stroke="#000" stroke-width="2.5" />
<line x1="1379.5" y1="1323" x2="1379.5" y2="1628" stroke="#000" stroke-width="2.5" />
<polygon points="1379.5,1395.0 1375.0,1377.0 1384.0,1377.0" fill="#000"/>
<polygon points="1379.5,1395.0 1384.0,1413.0 1375.0,1413.0" fill="#000"/>
<polygon points="1379.5,1628.0 1374.5,1608.0 1384.5,1608.0" fill="#000"/>
<text x="0" y="0" font-size="22" font-family="Liberation Sans" text-anchor="middle" textLength="74" lengthAdjust="spacingAndGlyphs" transform="translate(1370 1366) rotate(-90)" >0.15 **)</text>
<text x="0" y="0" font-size="26" font-family="Liberation Sans" text-anchor="middle" textLength="42" lengthAdjust="spacingAndGlyphs" transform="translate(1372 1512) rotate(-90)" >20.9</text>
<line x1="1617" y1="1395" x2="1668" y2="1395" stroke="#000" stroke-width="2.5" />
<line x1="1619.5" y1="1580.6" x2="1668" y2="1580.6" stroke="#000" stroke-width="2.5" />
<line x1="1589.6" y1="1628" x2="1668" y2="1628" stroke="#000" stroke-width="2.5" />
<line x1="1657" y1="1395" x2="1657" y2="1580.6" stroke="#000" stroke-width="2.5" />
<polygon points="1657.0,1580.6 1652.0,1560.6 1662.0,1560.6" fill="#000"/>
<polygon points="1657.0,1395.0 1662.0,1415.0 1652.0,1415.0" fill="#000"/>
<line x1="1657" y1="1628" x2="1657" y2="1664" stroke="#000" stroke-width="2.5" />
<polygon points="1657.0,1628.0 1661.5,1646.0 1652.5,1646.0" fill="#000"/>
<text x="0" y="0" font-size="26" font-family="Liberation Sans" text-anchor="middle" textLength="46" lengthAdjust="spacingAndGlyphs" transform="translate(1647 1502) rotate(-90)" >16.6</text>
<text x="0" y="0" font-size="16" font-family="Liberation Sans" text-anchor="middle" textLength="15" lengthAdjust="spacingAndGlyphs" transform="translate(1634 1468) rotate(-90)" >+0</text>
<text x="0" y="0" font-size="16" font-family="Liberation Sans" text-anchor="middle" textLength="30" lengthAdjust="spacingAndGlyphs" transform="translate(1650 1461) rotate(-90)" >-0.3</text>
<text x="0" y="0" font-size="26" font-family="Liberation Sans" text-anchor="middle" textLength="30" lengthAdjust="spacingAndGlyphs" transform="translate(1651 1605) rotate(-90)" >4.3</text>
<text x="0" y="0" font-size="24" font-family="Liberation Sans" text-anchor="middle" textLength="76" lengthAdjust="spacingAndGlyphs" transform="translate(1563 1659) rotate(-90)" >Recess</text>
<text x="0" y="0" font-size="24" font-family="Liberation Sans" text-anchor="middle" textLength="29" lengthAdjust="spacingAndGlyphs" transform="translate(1538 1682) rotate(-90)" >0.5</text>
<line x1="1568.5" y1="1617" x2="1568.5" y2="1706" stroke="#000" stroke-width="2.5" />
<polygon points="1568.5,1706.0 1564.0,1688.0 1573.0,1688.0" fill="#000"/>
<rect x="1843.5" y="1582" width="11" height="40.700000000000045" rx="2" fill="url(#gGold)" stroke="#000" stroke-width="1.5"/>
<rect x="1871.0" y="1582" width="11" height="40.700000000000045" rx="2" fill="url(#gGold)" stroke="#000" stroke-width="1.5"/>
<rect x="2034.5" y="1582" width="11" height="40.700000000000045" rx="2" fill="url(#gGold)" stroke="#000" stroke-width="1.5"/>
<rect x="1809.7" y="1568" width="269.3" height="17.4" fill="url(#gS)" stroke="#000" stroke-width="2.5"/>
<rect x="2028.6" y="1577.7" width="20.4" height="7.7" fill="#777" stroke="#000" stroke-width="1.5"/>
<rect x="1810.7" y="1396.4" width="267.8" height="12" fill="url(#gS)" stroke="#000" stroke-width="2.5"/>
<rect x="1764.8" y="1408.7" width="359.2" height="160.1" rx="5" fill="url(#gS)" stroke="#000" stroke-width="3"/>
<line x1="1867" y1="1395.5" x2="2020" y2="1395.5" stroke="#000" stroke-width="3.5" />
<circle cx="1803" cy="1403.7" r="20.6" fill="none" stroke="#000" stroke-width="2.5" />
<line x1="1749.8" y1="1354.8" x2="1788" y2="1388" stroke="#000" stroke-width="2.5" />
<text x="1773.8" y="1316.6" font-size="22" font-family="Liberation Sans" fill="#000" textLength="182" lengthAdjust="spacingAndGlyphs" >Recess for O-ring</text>
<text x="1773.8" y="1343" font-size="22" font-family="Liberation Sans" fill="#000" textLength="72" lengthAdjust="spacingAndGlyphs" >sealing</text>
<line x1="1811.4" y1="1364" x2="1811.4" y2="1396" stroke="#000" stroke-width="2.5" />
<line x1="2077.5" y1="1364" x2="2077.5" y2="1396" stroke="#000" stroke-width="2.5" />
<line x1="1811.4" y1="1377" x2="2077.5" y2="1377" stroke="#000" stroke-width="2.5" />
<polygon points="2077.5,1377.0 2057.5,1382.0 2057.5,1372.0" fill="#000"/>
<polygon points="1811.4,1377.0 1831.4,1372.0 1831.4,1382.0" fill="#000"/>
<text x="1941" y="1365.8" font-size="23" font-family="Liberation Sans" fill="#000" textLength="62" lengthAdjust="spacingAndGlyphs" >Ø23.7</text>
<line x1="1809.7" y1="1588" x2="1809.7" y2="1654" stroke="#000" stroke-width="2.5" />
<line x1="2079" y1="1588" x2="2079" y2="1654" stroke="#000" stroke-width="2.5" />
<line x1="1809.7" y1="1643" x2="2079" y2="1643" stroke="#000" stroke-width="2.5" />
<polygon points="2079.0,1643.0 2059.0,1648.0 2059.0,1638.0" fill="#000"/>
<polygon points="1809.7,1643.0 1829.7,1638.0 1829.7,1648.0" fill="#000"/>
<text x="1931" y="1631" font-size="23" font-family="Liberation Sans" fill="#000" textLength="43" lengthAdjust="spacingAndGlyphs" >Ø24</text>
<line x1="1685" y1="1397.4" x2="1810" y2="1397.4" stroke="#000" stroke-width="2.5" />
<line x1="1760" y1="1569.4" x2="1765" y2="1569.4" stroke="#000" stroke-width="2.5" />
<line x1="1713" y1="1585.4" x2="1806" y2="1585.4" stroke="#000" stroke-width="2.5" />
<line x1="1685" y1="1623.7" x2="1843" y2="1623.7" stroke="#000" stroke-width="2.5" />
<line x1="1696.6" y1="1397.4" x2="1696.6" y2="1623.7" stroke="#000" stroke-width="2.5" />
<polygon points="1696.6,1623.7 1691.6,1603.7 1701.6,1603.7" fill="#000"/>
<polygon points="1696.6,1397.4 1701.6,1417.4 1691.6,1417.4" fill="#000"/>
<text x="0" y="0" font-size="26" font-family="Liberation Sans" text-anchor="middle" textLength="42" lengthAdjust="spacingAndGlyphs" transform="translate(1691 1512) rotate(-90)" >20.1</text>
<line x1="1724.2" y1="1397.4" x2="1724.2" y2="1585.4" stroke="#000" stroke-width="2.5" />
<polygon points="1724.2,1585.4 1719.2,1565.4 1729.2,1565.4" fill="#000"/>
<polygon points="1724.2,1397.4 1729.2,1417.4 1719.2,1417.4" fill="#000"/>
<text x="0" y="0" font-size="26" font-family="Liberation Sans" text-anchor="middle" textLength="43" lengthAdjust="spacingAndGlyphs" transform="translate(1719 1491) rotate(-90)" >16.7</text>
<line x1="1751.5" y1="1514.5" x2="1751.5" y2="1568.8" stroke="#000" stroke-width="2.5" />
<polygon points="1751.5,1568.8 1747.0,1550.8 1756.0,1550.8" fill="#000"/>
<circle cx="1751.5" cy="1585.4" r="5" fill="#000" stroke="none" stroke-width="0" />
<line x1="1751.5" y1="1585.4" x2="1751.5" y2="1669" stroke="#000" stroke-width="2.5" />
<polygon points="1751.5,1623.7 1756.0,1641.7 1747.0,1641.7" fill="#000"/>
<text x="0" y="0" font-size="26" font-family="Liberation Sans" text-anchor="middle" textLength="30" lengthAdjust="spacingAndGlyphs" transform="translate(1748 1534) rotate(-90)" >1.4</text>
<text x="0" y="0" font-size="26" font-family="Liberation Sans" text-anchor="middle" textLength="31" lengthAdjust="spacingAndGlyphs" transform="translate(1745 1652) rotate(-90)" >3.4</text>
<line x1="2079" y1="1396.4" x2="2169" y2="1396.4" stroke="#000" stroke-width="2.5" />
<line x1="2124" y1="1408" x2="2169" y2="1408" stroke="#000" stroke-width="2.5" />
<line x1="2156.7" y1="1301.6" x2="2156.7" y2="1396.4" stroke="#000" stroke-width="2.5" />
<polygon points="2156.7,1396.4 2152.2,1378.4 2161.2,1378.4" fill="#000"/>
<line x1="2156.7" y1="1408" x2="2156.7" y2="1431" stroke="#000" stroke-width="2.5" />
<polygon points="2156.7,1408.0 2161.2,1426.0 2152.2,1426.0" fill="#000"/>
<text x="0" y="0" font-size="22" font-family="Liberation Sans" text-anchor="middle" textLength="70" lengthAdjust="spacingAndGlyphs" transform="translate(2148 1343) rotate(-90)" >0.3 ***)</text>
<line x1="2082.5" y1="1576.7" x2="2169" y2="1576.7" stroke="#000" stroke-width="2.5" />
<line x1="2082.5" y1="1585.4" x2="2169" y2="1585.4" stroke="#000" stroke-width="2.5" />
<line x1="2156.7" y1="1542.8" x2="2156.7" y2="1576.7" stroke="#000" stroke-width="2.5" />
<polygon points="2156.7,1576.7 2152.2,1558.7 2161.2,1558.7" fill="#000"/>
<line x1="2156.7" y1="1585.4" x2="2156.7" y2="1657.6" stroke="#000" stroke-width="2.5" />
<polygon points="2156.7,1585.4 2161.2,1603.4 2152.2,1603.4" fill="#000"/>
<text x="0" y="0" font-size="26" font-family="Liberation Sans" text-anchor="middle" textLength="31" lengthAdjust="spacingAndGlyphs" transform="translate(2150 1638) rotate(-90)" >0.8</text>
<clipPath id="cpO"><circle cx="1704.3" cy="1307" r="64"/></clipPath>
<g clip-path="url(#cpO)">
<rect x="1630" y="1316.9" width="150" height="80" fill="url(#hatch)"/>
<rect x="1729.9" y="1286.7" width="50" height="40" fill="url(#hatch)"/>
<rect x="1662.7" y="1316.9" width="67.2" height="23.4" fill="#9c9c9c" stroke="#000" stroke-width="2.5"/>
<line x1="1630" y1="1316.9" x2="1662.7" y2="1316.9" stroke="#000" stroke-width="2.5" />
<line x1="1729.9" y1="1286.7" x2="1729.9" y2="1340.3" stroke="#000" stroke-width="2.5" />
</g>
<circle cx="1704.3" cy="1307" r="64" fill="none" stroke="#000" stroke-width="3" />
<line x1="1612" y1="1286.7" x2="1762.5" y2="1286.7" stroke="#000" stroke-width="2.5" />
<line x1="1612" y1="1340.3" x2="1648" y2="1340.3" stroke="#000" stroke-width="2.5" />
<line x1="1662.7" y1="1264.5" x2="1662.7" y2="1312.6" stroke="#000" stroke-width="2.5" />
<line x1="1729.9" y1="1264.5" x2="1729.9" y2="1286.7" stroke="#000" stroke-width="2.5" />
<line x1="1662.7" y1="1276.2" x2="1729.9" y2="1276.2" stroke="#000" stroke-width="2.5" />
<polygon points="1729.9,1276.2 1711.9,1280.7 1711.9,1271.7" fill="#000"/>
<polygon points="1662.7,1276.2 1680.7,1271.7 1680.7,1280.7" fill="#000"/>
<text x="1690" y="1269.4" font-size="23" font-family="Liberation Sans" fill="#000" textLength="12" lengthAdjust="spacingAndGlyphs" >2</text>
<line x1="1623.9" y1="1286.7" x2="1623.9" y2="1340.3" stroke="#000" stroke-width="2.5" />
<polygon points="1623.9,1340.3 1619.4,1322.3 1628.4,1322.3" fill="#000"/>
<polygon points="1623.9,1286.7 1628.4,1304.7 1619.4,1304.7" fill="#000"/>
<text x="0" y="0" font-size="24" font-family="Liberation Sans" text-anchor="middle" textLength="29" lengthAdjust="spacingAndGlyphs" transform="translate(1616 1313) rotate(-90)" >1.6</text>
<circle cx="422" cy="1851.4" r="87.5" fill="url(#gBM)" stroke="#000" stroke-width="3" />
<circle cx="422" cy="1851.4" r="82" fill="none" stroke="#000" stroke-width="2" />
<clipPath id="cpM"><circle cx="422" cy="1851.4" r="80"/></clipPath>
<g clip-path="url(#cpM)">
<rect x="360.8" y="1790" width="124.6" height="150" fill="#2ea836" stroke="#000" stroke-width="2.5"/>
<path d="M378,1800 L400,1795 L440,1795 L470,1810 L470,1870 M372,1880 L390,1850 L392,1930 M430,1930 L440,1870 L455,1860 L470,1880" fill="none" stroke="#7fe07a" stroke-width="3" />
<rect x="382.5" y="1801" width="11" height="14" fill="#e8b83a"/>
<rect x="404.5" y="1801" width="11" height="14" fill="#e8b83a"/>
<rect x="424.5" y="1801" width="11" height="14" fill="#e8b83a"/>
<rect x="364.5" y="1813" width="11" height="14" fill="#e8b83a"/>
<rect x="362.5" y="1843" width="11" height="14" fill="#e8b83a"/>
<rect x="382.5" y="1843" width="11" height="14" fill="#e8b83a"/>
<rect x="404.5" y="1843" width="11" height="14" fill="#e8b83a"/>
<rect x="426.5" y="1838" width="11" height="14" fill="#e8b83a"/>
<rect x="449.5" y="1845" width="11" height="14" fill="#e8b83a"/>
<rect x="469.5" y="1845" width="11" height="14" fill="#e8b83a"/>
<rect x="364.5" y="1878" width="11" height="14" fill="#e8b83a"/>
<rect x="469.5" y="1880" width="11" height="14" fill="#e8b83a"/>
<rect x="449.5" y="1793" width="11" height="14" fill="#e8b83a"/>
<circle cx="422" cy="1851" r="4" fill="#000" stroke="none" stroke-width="0" />
</g>
<ellipse cx="422" cy="1771" rx="15" ry="10" fill="#b8b8b8" stroke="#000" stroke-width="2" />
<ellipse cx="345" cy="1851" rx="10" ry="15" fill="#b8b8b8" stroke="#000" stroke-width="2" />
<ellipse cx="499" cy="1851" rx="10" ry="15" fill="#b8b8b8" stroke="#000" stroke-width="2" />
<ellipse cx="378" cy="1922" rx="12" ry="9" fill="#b8b8b8" stroke="#000" stroke-width="2" />
<ellipse cx="466" cy="1922" rx="12" ry="9" fill="#b8b8b8" stroke="#000" stroke-width="2" />
<ellipse cx="372" cy="1790" rx="9" ry="8" fill="#b8b8b8" stroke="#000" stroke-width="2" />
<ellipse cx="472" cy="1790" rx="9" ry="8" fill="#b8b8b8" stroke="#000" stroke-width="2" />
<circle cx="405" cy="1918" r="7" fill="#ccc" stroke="#000" stroke-width="2" />
<circle cx="422" cy="1918" r="7" fill="#ccc" stroke="#000" stroke-width="2" />
<circle cx="439" cy="1918" r="7" fill="#ccc" stroke="#000" stroke-width="2" />
<circle cx="402.6" cy="1831" r="7" fill="#e8e0c8" stroke="#000" stroke-width="2.5" />
<circle cx="442.5" cy="1831" r="7" fill="#e8e0c8" stroke="#000" stroke-width="2.5" />
<circle cx="402.6" cy="1870.7" r="7" fill="#e8e0c8" stroke="#000" stroke-width="2.5" />
<circle cx="441.4" cy="1870.7" r="7" fill="#e8e0c8" stroke="#000" stroke-width="2.5" />
<text x="317.8" y="1767" font-size="22" font-family="Liberation Sans" fill="#000" textLength="16" lengthAdjust="spacingAndGlyphs" >C</text>
<path d="M315.7,1777.5 L361.8,1777.5 L398.5,1825.7" fill="none" stroke="#000" stroke-width="2.5" />
<polygon points="398.5,1825.7 383.6,1814.4 391.6,1808.3" fill="#000"/>
<text x="521" y="1766" font-size="22" font-family="Liberation Sans" fill="#000" textLength="14" lengthAdjust="spacingAndGlyphs" >R</text>
<path d="M536.7,1775.4 L489.6,1775.4 L446.6,1823.6" fill="none" stroke="#000" stroke-width="2.5" />
<polygon points="446.6,1823.6 454.9,1806.8 462.3,1813.5" fill="#000"/>
<text x="548" y="1882" font-size="22" font-family="Liberation Sans" fill="#000" textLength="14" lengthAdjust="spacingAndGlyphs" >S</text>
<path d="M563.0,1891.7 L517.9,1891.7 L507.4,1884.0 L454.0,1874.0" fill="none" stroke="#000" stroke-width="2.5" />
<polygon points="454.0,1874.0 472.6,1872.4 470.8,1882.2" fill="#000"/>
<text x="316.8" y="1931.5" font-size="22" font-family="Liberation Sans" fill="#000" textLength="31" lengthAdjust="spacingAndGlyphs" >NC</text>
<path d="M314.7,1941.0 L377.5,1941.0 L400.5,1878.0" fill="none" stroke="#000" stroke-width="2.5" />
<polygon points="400.5,1878.0 399.0,1896.6 389.6,1893.2" fill="#000"/>
<text x="485.4" y="1933.6" font-size="22" font-family="Liberation Sans" fill="#000" textLength="134" lengthAdjust="spacingAndGlyphs" >Ø0.5 (4 pins)</text>
<path d="M620.5,1944.0 L455.0,1944.0 L404.7,1874.0" fill="none" stroke="#000" stroke-width="2.5" />
<polygon points="404.7,1874.0 419.3,1885.7 411.1,1891.5" fill="#000"/>
<line x1="515.8" y1="1720" x2="432" y2="1842.5" stroke="#000" stroke-width="2.5" />
<text x="0" y="0" font-size="23" font-family="Liberation Sans" text-anchor="middle" textLength="56" lengthAdjust="spacingAndGlyphs" transform="translate(486 1744) rotate(-55)" >Ø5.08</text>
<path d="M706.3,1829.8 L748.7,1789 L770,1800 L745,1860 Z" fill="#6a6a6a" stroke="#000" stroke-width="2.5"/>
<circle cx="809.7" cy="1851.7" r="87.5" fill="url(#gBC)" stroke="#000" stroke-width="3" />
<path d="M768.5,1789.5 A75,75 0 1 1 768.5,1914.0" fill="none" stroke="#000" stroke-width="3"/>
<path d="M775.1,1799.4 A63,63 0 1 1 775.1,1904.0" fill="none" stroke="#000" stroke-width="3"/>
<path d="M781.7,1809.4 A51,51 0 1 1 781.7,1894.0" fill="none" stroke="#000" stroke-width="3"/>
<path d="M755,1818 L770,1815 L778,1835 L778,1870 L770,1890 L752,1890 Z" fill="#6a6a6a" stroke="#000" stroke-width="2.5"/>
<circle cx="809.7" cy="1851.7" r="38" fill="none" stroke="#000" stroke-width="2" stroke-dasharray="12 8"/>
<rect x="783.8" y="1825" width="12" height="12" fill="#333" stroke="#000" stroke-width="2"/>
<circle cx="789.8" cy="1831" r="3.5" fill="none" stroke="#e8c050" stroke-width="1.5" />
<rect x="823.5" y="1825" width="12" height="12" fill="#333" stroke="#000" stroke-width="2"/>
<circle cx="829.5" cy="1831" r="3.5" fill="none" stroke="#e8c050" stroke-width="1.5" />
<rect x="783.8" y="1866" width="12" height="12" fill="#333" stroke="#000" stroke-width="2"/>
<circle cx="789.8" cy="1872" r="3.5" fill="none" stroke="#e8c050" stroke-width="1.5" />
<rect x="823.5" y="1866" width="12" height="12" fill="#333" stroke="#000" stroke-width="2"/>
<circle cx="829.5" cy="1872" r="3.5" fill="none" stroke="#e8c050" stroke-width="1.5" />
<text x="562.7" y="1741" font-size="22" font-family="Liberation Sans" fill="#000" textLength="110" lengthAdjust="spacingAndGlyphs" >Recess for</text>
<text x="562.7" y="1767.6" font-size="22" font-family="Liberation Sans" fill="#000" textLength="92" lengthAdjust="spacingAndGlyphs" >anti-twist</text>
<text x="562.7" y="1794" font-size="22" font-family="Liberation Sans" fill="#000" textLength="104" lengthAdjust="spacingAndGlyphs" >protection</text>
<path d="M560.6,1804.0 L679.8,1804.0" fill="none" stroke="#000" stroke-width="2.5" />
<path d="M637.4,1804.0 L637.4,1831.0 L748.7,1851.0" fill="none" stroke="#000" stroke-width="2.5" />
<polygon points="748.7,1851.0 730.1,1852.7 731.9,1842.9" fill="#000"/>
<line x1="723.5" y1="1765" x2="705" y2="1828.5" stroke="#000" stroke-width="0" />
<line x1="690.4" y1="1814" x2="730" y2="1774" stroke="#000" stroke-width="2.5" />
<polygon points="730.0,1774.0 721.9,1788.5 715.5,1782.1" fill="#000"/>
<polygon points="690.4,1814.0 698.5,1799.5 704.9,1805.9" fill="#000"/>
<line x1="724" y1="1765" x2="760" y2="1803" stroke="#000" stroke-width="2" />
<line x1="683" y1="1806" x2="707" y2="1829" stroke="#000" stroke-width="2" />
<text x="0" y="0" font-size="22" font-family="Liberation Sans" text-anchor="middle" textLength="28" lengthAdjust="spacingAndGlyphs" transform="translate(703 1781) rotate(-45)" >5.2</text>
<text x="715.6" y="1747.7" font-size="22" font-family="Liberation Sans" fill="#000" textLength="16" lengthAdjust="spacingAndGlyphs" >C</text>
<path d="M714.0,1757.0 L762.0,1757.0 L787.0,1826.0" fill="none" stroke="#000" stroke-width="2.5" />
<polygon points="787.0,1826.0 776.2,1810.8 785.6,1807.4" fill="#000"/>
<text x="742" y="1725" font-size="22" font-family="Liberation Sans" fill="#000" textLength="135" lengthAdjust="spacingAndGlyphs" >Ø0.5 (4 pins)</text>
<path d="M740.8,1734.4 L878.5,1734.4" fill="none" stroke="#000" stroke-width="2.5" />
<path d="M826.9,1734.4 L826.9,1763.6 L795.0,1822.0" fill="none" stroke="#000" stroke-width="2.5" />
<polygon points="795.0,1822.0 799.2,1803.8 808.0,1808.6" fill="#000"/>
<text x="906" y="1774" font-size="22" font-family="Liberation Sans" fill="#000" textLength="15" lengthAdjust="spacingAndGlyphs" >R</text>
<path d="M922.0,1784.8 L875.9,1784.8 L833.5,1827.0" fill="none" stroke="#000" stroke-width="2.5" />
<polygon points="833.5,1827.0 842.7,1810.8 849.8,1817.8" fill="#000"/>
<line x1="783" y1="1848" x2="967" y2="1878.8" stroke="#000" stroke-width="2.5" />
<polygon points="783.0,1848.0 799.5,1846.2 798.0,1855.1" fill="#000"/>
<polygon points="837.0,1857.0 820.5,1858.8 822.0,1849.9" fill="#000"/>
<text x="0" y="0" font-size="23" font-family="Liberation Sans" text-anchor="middle" textLength="62" lengthAdjust="spacingAndGlyphs" transform="translate(935 1859) rotate(6)" >Ø5.08</text>
<text x="706" y="1928" font-size="22" font-family="Liberation Sans" fill="#000" textLength="32" lengthAdjust="spacingAndGlyphs" >NC</text>
<path d="M703.7,1937.0 L767.0,1937.0 L788.5,1872.0" fill="none" stroke="#000" stroke-width="2.5" />
<polygon points="788.5,1872.0 787.6,1890.7 778.1,1887.5" fill="#000"/>
<text x="881" y="1926.5" font-size="22" font-family="Liberation Sans" fill="#000" textLength="15" lengthAdjust="spacingAndGlyphs" >S</text>
<path d="M897.0,1935.3 L852.0,1935.3 L831.0,1872.0" fill="none" stroke="#000" stroke-width="2.5" />
<polygon points="831.0,1872.0 841.4,1887.5 831.9,1890.7" fill="#000"/>
<circle cx="1148" cy="1852.2" r="87.6" fill="url(#gBS)" stroke="#000" stroke-width="3" />
<circle cx="1149" cy="1836.6" r="41" fill="none" stroke="#000" stroke-width="2.5" stroke-dasharray="14 8"/>
<rect x="1130" y="1806" width="36" height="63.7" fill="#2a2a2a" stroke="#000" stroke-width="2"/>
<rect x="1134" y="1810" width="12" height="12" fill="#111" stroke="#555" stroke-width="1.5"/>
<rect x="1149" y="1810" width="12" height="12" fill="#111" stroke="#555" stroke-width="1.5"/>
<rect x="1134" y="1825" width="12" height="12" fill="#111" stroke="#555" stroke-width="1.5"/>
<rect x="1149" y="1825" width="12" height="12" fill="#111" stroke="#555" stroke-width="1.5"/>
<rect x="1134" y="1840" width="12" height="12" fill="#111" stroke="#555" stroke-width="1.5"/>
<rect x="1149" y="1840" width="12" height="12" fill="#111" stroke="#555" stroke-width="1.5"/>
<rect x="1134" y="1855" width="12" height="12" fill="#111" stroke="#555" stroke-width="1.5"/>
<rect x="1149" y="1855" width="12" height="12" fill="#111" stroke="#555" stroke-width="1.5"/>
<line x1="1148" y1="1752" x2="1148" y2="1951.6" stroke="#000" stroke-width="2.5" stroke-dasharray="40 8 6 8"/>
<line x1="1048" y1="1852.4" x2="1248" y2="1852.4" stroke="#000" stroke-width="2.5" stroke-dasharray="40 8 6 8"/>
<circle cx="1148" cy="1785" r="8.2" fill="none" stroke="#000" stroke-width="2.5" />
<line x1="1042" y1="1785" x2="1146" y2="1785" stroke="#000" stroke-width="2.5" />
<line x1="1053.7" y1="1785" x2="1053.7" y2="1852.4" stroke="#000" stroke-width="2.5" />
<polygon points="1053.7,1852.4 1049.2,1836.4 1058.2,1836.4" fill="#000"/>
<polygon points="1053.7,1785.0 1058.2,1801.0 1049.2,1801.0" fill="#000"/>
<text x="0" y="0" font-size="24" font-family="Liberation Sans" text-anchor="middle" textLength="13" lengthAdjust="spacingAndGlyphs" transform="translate(1046 1817) rotate(-90)" >6</text>
<path d="M1053.7,1690.7 L1143.0,1780.0" fill="none" stroke="#000" stroke-width="2.5" />
<polygon points="1143.0,1780.0 1126.7,1770.8 1133.8,1763.7" fill="#000"/>
<text x="0" y="0" font-size="24" font-family="Liberation Sans" text-anchor="middle" textLength="52" lengthAdjust="spacingAndGlyphs" transform="translate(1092 1697) rotate(45)" >Ø1.5</text>
<text x="0" y="0" font-size="15" font-family="Liberation Sans" text-anchor="middle" textLength="26" lengthAdjust="spacingAndGlyphs" transform="translate(1134 1716) rotate(45)" >+0.1</text>
<text x="0" y="0" font-size="15" font-family="Liberation Sans" text-anchor="middle" textLength="14" lengthAdjust="spacingAndGlyphs" transform="translate(1112 1735) rotate(45)" >-0</text>
<line x1="1180" y1="1808" x2="1214" y2="1780" stroke="#000" stroke-width="2.5" stroke-dasharray="10 6"/>
<circle cx="1282.9" cy="1716" r="92.2" fill="#fff" stroke="#000" stroke-width="3" />
<rect x="1250" y="1653.4" width="68" height="122.5" fill="#fff" stroke="#000" stroke-width="2.5"/>
<rect x="1260.9" y="1663.5" width="17" height="17" fill="#444" stroke="#000" stroke-width="2"/>
<rect x="1264.9" y="1667.5" width="9" height="9" fill="#fff" stroke="#000" stroke-width="1"/>
<rect x="1289.5" y="1663.5" width="17" height="17" fill="#444" stroke="#000" stroke-width="2"/>
<rect x="1293.5" y="1667.5" width="9" height="9" fill="#fff" stroke="#000" stroke-width="1"/>
<rect x="1260.9" y="1692.3" width="17" height="17" fill="#444" stroke="#000" stroke-width="2"/>
<rect x="1264.9" y="1696.3" width="9" height="9" fill="#fff" stroke="#000" stroke-width="1"/>
<rect x="1289.5" y="1692.3" width="17" height="17" fill="#444" stroke="#000" stroke-width="2"/>
<rect x="1293.5" y="1696.3" width="9" height="9" fill="#fff" stroke="#000" stroke-width="1"/>
<rect x="1260.9" y="1721.0" width="17" height="17" fill="#444" stroke="#000" stroke-width="2"/>
<rect x="1264.9" y="1725.0" width="9" height="9" fill="#fff" stroke="#000" stroke-width="1"/>
<rect x="1289.5" y="1721.0" width="17" height="17" fill="#444" stroke="#000" stroke-width="2"/>
<rect x="1293.5" y="1725.0" width="9" height="9" fill="#fff" stroke="#000" stroke-width="1"/>
<rect x="1260.9" y="1749.5" width="17" height="17" fill="#444" stroke="#000" stroke-width="2"/>
<rect x="1264.9" y="1753.5" width="9" height="9" fill="#fff" stroke="#000" stroke-width="1"/>
<rect x="1289.5" y="1749.5" width="17" height="17" fill="#444" stroke="#000" stroke-width="2"/>
<rect x="1293.5" y="1753.5" width="9" height="9" fill="#fff" stroke="#000" stroke-width="1"/>
<text x="1246" y="1675.6" font-size="21" font-family="Liberation Sans" fill="#000" text-anchor="end" >DS</text>
<text x="1246" y="1705" font-size="21" font-family="Liberation Sans" fill="#000" text-anchor="end" >GND</text>
<text x="1246" y="1735" font-size="21" font-family="Liberation Sans" fill="#000" text-anchor="end" >NC</text>
<text x="1246" y="1765" font-size="21" font-family="Liberation Sans" fill="#000" text-anchor="end" >C</text>
<text x="1321" y="1675.6" font-size="21" font-family="Liberation Sans" fill="#000" >NC</text>
<text x="1321" y="1705" font-size="21" font-family="Liberation Sans" fill="#000" >NC</text>
<text x="1321" y="1735" font-size="21" font-family="Liberation Sans" fill="#000" >R</text>
<text x="1321" y="1765" font-size="21" font-family="Liberation Sans" fill="#000" >S</text>
<line x1="1213" y1="1685.7" x2="1248" y2="1685.7" stroke="#000" stroke-width="2" />
<line x1="1194" y1="1715.5" x2="1248" y2="1715.5" stroke="#000" stroke-width="2" />
<line x1="1211" y1="1746" x2="1248" y2="1746" stroke="#000" stroke-width="2" />
<line x1="1227" y1="1776" x2="1337" y2="1776" stroke="#000" stroke-width="2" />
<line x1="1319" y1="1684" x2="1355.6" y2="1684" stroke="#000" stroke-width="2" />
<line x1="1319" y1="1715.5" x2="1355.6" y2="1715.5" stroke="#000" stroke-width="2" />
<line x1="1319" y1="1746" x2="1338" y2="1746" stroke="#000" stroke-width="2" />
<circle cx="1504.4" cy="1851.2" r="112.6" fill="url(#gB4)" stroke="#000" stroke-width="3" />
<circle cx="1504.4" cy="1851.2" r="102.3" fill="none" stroke="#000" stroke-width="2.5" />
<path d="M1445,1918 A76,76 0 1 1 1578,1880" fill="none" stroke="#000" stroke-width="2.5" stroke-dasharray="14 8"/>
<line x1="1504.6" y1="1726.8" x2="1504.6" y2="1975.7" stroke="#000" stroke-width="2.5" stroke-dasharray="40 8 6 8"/>
<line x1="1380.7" y1="1851.3" x2="1628.4" y2="1851.3" stroke="#000" stroke-width="2.5" stroke-dasharray="60 8 6 8"/>
<circle cx="1505" cy="1775" r="8" fill="#d8d0b0" stroke="#000" stroke-width="3" />
<circle cx="1505" cy="1775" r="3" fill="none" stroke="#c8a030" stroke-width="1.5" />
<circle cx="1428.7" cy="1851.3" r="8" fill="#d8d0b0" stroke="#000" stroke-width="3" />
<circle cx="1428.7" cy="1851.3" r="3" fill="none" stroke="#c8a030" stroke-width="1.5" />
<circle cx="1580.3" cy="1851.3" r="8" fill="#d8d0b0" stroke="#000" stroke-width="3" />
<circle cx="1580.3" cy="1851.3" r="3" fill="none" stroke="#c8a030" stroke-width="1.5" />
<text x="1422.6" y="1725.6" font-size="22" font-family="Liberation Sans" fill="#000" textLength="14" lengthAdjust="spacingAndGlyphs" >S</text>
<path d="M1421.0,1735.5 L1464.5,1735.5 L1501.4,1772.4" fill="none" stroke="#000" stroke-width="2.5" />
<polygon points="1501.4,1772.4 1485.1,1763.2 1492.2,1756.1" fill="#000"/>
<text x="1646.8" y="1810.6" font-size="22" font-family="Liberation Sans" fill="#000" textLength="15" lengthAdjust="spacingAndGlyphs" >C</text>
<path d="M1662.9,1821.7 L1616.0,1821.7 L1586.5,1845.0" fill="none" stroke="#000" stroke-width="2.5" />
<polygon points="1586.5,1845.0 1597.5,1829.9 1603.7,1837.8" fill="#000"/>
<text x="1356" y="1911.7" font-size="22" font-family="Liberation Sans" fill="#000" textLength="15" lengthAdjust="spacingAndGlyphs" >R</text>
<path d="M1353.6,1922.8 L1399.0,1922.8 L1427.5,1857.5" fill="none" stroke="#000" stroke-width="2.5" />
<polygon points="1427.5,1857.5 1424.9,1876.0 1415.7,1872.0" fill="#000"/>
<line x1="1340" y1="1813" x2="1579" y2="1868.5" stroke="#000" stroke-width="2.5" />
<polygon points="1430.0,1834.0 1446.6,1833.2 1444.6,1842.0" fill="#000"/>
<polygon points="1579.0,1868.5 1562.4,1869.3 1564.4,1860.5" fill="#000"/>
<text x="0" y="0" font-size="23" font-family="Liberation Sans" text-anchor="middle" textLength="58" lengthAdjust="spacingAndGlyphs" transform="translate(1368 1805) rotate(12)" >Ø13.5</text>
<text x="1587.7" y="1947.4" font-size="22" font-family="Liberation Sans" fill="#000" textLength="134" lengthAdjust="spacingAndGlyphs" >Ø1.5 (3 pins)</text>
<path d="M1723.0,1958.5 L1586.5,1958.5" fill="none" stroke="#000" stroke-width="2.5" />
<path d="M1671.5,1926.5 L1671.5,1897.0 L1589.0,1855.0" fill="none" stroke="#000" stroke-width="2.5" />
<polygon points="1589.0,1855.0 1607.3,1858.7 1602.8,1867.6" fill="#000"/>
<clipPath id="cpR"><circle cx="1633" cy="1712" r="43"/></clipPath>
<g clip-path="url(#cpR)">
<rect x="1585" y="1660" width="81" height="73.7" fill="url(#hatch2)"/>
<rect x="1591" y="1706" width="20" height="27.7" fill="#555" stroke="#000" stroke-width="2"/>
<line x1="1591" y1="1733.7" x2="1666" y2="1733.7" stroke="#000" stroke-width="2.5" />
<line x1="1666" y1="1660" x2="1666" y2="1733.7" stroke="#000" stroke-width="2.5" />
</g>
<circle cx="1633" cy="1712" r="43" fill="none" stroke="#000" stroke-width="3" />
<text x="1680" y="1714.5" font-size="22" font-family="Liberation Sans" fill="#000" textLength="43" lengthAdjust="spacingAndGlyphs" >Ø18</text>
<path d="M1724.5,1724.4 L1611.0,1724.4" fill="none" stroke="#000" stroke-width="2.5" />
<polygon points="1611.0,1724.4 1629.0,1719.4 1629.0,1729.4" fill="#000"/>
<line x1="1555.6" y1="1706" x2="1586.5" y2="1706" stroke="#000" stroke-width="2.5" />
<line x1="1555.6" y1="1733.7" x2="1591" y2="1733.7" stroke="#000" stroke-width="2.5" />
<line x1="1569" y1="1733.7" x2="1569" y2="1766" stroke="#000" stroke-width="2.5" />
<polygon points="1569.0,1733.7 1573.5,1749.7 1564.5,1749.7" fill="#000"/>
<polygon points="1569.0,1706.0 1564.5,1690.0 1573.5,1690.0" fill="#000"/>
<circle cx="1944.7" cy="1851" r="179.3" fill="#7a7a7a" stroke="#000" stroke-width="3" />
<circle cx="1944.7" cy="1851" r="174" fill="url(#gB7)" stroke="#000" stroke-width="2" />
<path d="M2049.8,1765.7 A135.3,135.3 0 1 1 2030.0,1745.9" fill="none" stroke="#000" stroke-width="3" />
<path d="M2041.2,1774.3 A123.3,123.3 0 1 1 2021.4,1754.5" fill="none" stroke="#000" stroke-width="3" />
<line x1="2021.4221970986735" y1="1754.4790029013266" x2="2054.5992841690677" y2="1721.3019158309323" stroke="#000" stroke-width="3" />
<line x1="2041.2209970986735" y1="1774.2778029013266" x2="2074.3980841690673" y2="1741.1007158309324" stroke="#000" stroke-width="3" />
<path d="M1878,1783 A95.7,95.7 0 0 0 1944,1946.7 A95.7,95.7 0 0 0 2040.4,1851" fill="none" stroke="#000" stroke-width="2.5" stroke-dasharray="14 8"/>
<line x1="1944.5" y1="1660" x2="1944.5" y2="2041" stroke="#000" stroke-width="2.5" stroke-dasharray="60 8 6 8"/>
<line x1="1752.6" y1="1851.3" x2="2136.7" y2="1851.3" stroke="#000" stroke-width="2.5" stroke-dasharray="60 8 6 8"/>
<line x1="1877.3" y1="1783.3" x2="1986.4" y2="1893.8" stroke="#000" stroke-width="2.5" />
<line x1="1877.3" y1="1918" x2="2075.7" y2="1716.7" stroke="#000" stroke-width="2.5" />
<line x1="2000" y1="1720" x2="2078" y2="1703" stroke="#000" stroke-width="0" />
<line x1="2075" y1="1690" x2="2102" y2="1717" stroke="#000" stroke-width="2.5" />
<line x1="2036" y1="1676" x2="2116" y2="1738" stroke="#000" stroke-width="0" />
<line x1="2038" y1="1675" x2="2060" y2="1697" stroke="#000" stroke-width="2.5" />
<polygon points="2060.0,1697.0 2045.5,1688.9 2051.9,1682.5" fill="#000"/>
<line x1="2089" y1="1728" x2="2112" y2="1750" stroke="#000" stroke-width="2.5" />
<polygon points="2089.0,1728.0 2103.5,1736.1 2097.1,1742.5" fill="#000"/>
<text x="0" y="0" font-size="22" font-family="Liberation Sans" text-anchor="middle" textLength="30" lengthAdjust="spacingAndGlyphs" transform="translate(2097 1700) rotate(50)" >2.6</text>
<circle cx="1877.3" cy="1783.3" r="6.5" fill="#d0c8a8" stroke="#000" stroke-width="3" />
<circle cx="1849" cy="1851.3" r="6.5" fill="#d0c8a8" stroke="#000" stroke-width="3" />
<circle cx="1877.3" cy="1918" r="6.5" fill="#d0c8a8" stroke="#000" stroke-width="3" />
<circle cx="2040.3" cy="1851.3" r="6.5" fill="#d0c8a8" stroke="#000" stroke-width="3" />
<text x="1774" y="1692.6" font-size="22" font-family="Liberation Sans" fill="#000" textLength="15" lengthAdjust="spacingAndGlyphs" >C</text>
<path d="M1771.0,1702.5 L1817.8,1702.5 L1876.0,1782.0" fill="none" stroke="#000" stroke-width="2.5" />
<polygon points="1876.0,1782.0 1861.3,1770.4 1869.4,1764.5" fill="#000"/>
<line x1="1720" y1="1790.4" x2="2068.6" y2="1884" stroke="#000" stroke-width="2.5" />
<polygon points="1850.4,1825.4 1833.8,1825.6 1836.1,1816.9" fill="#000"/>
<polygon points="2043.0,1877.0 2059.6,1876.8 2057.3,1885.5" fill="#000"/>
<text x="0" y="0" font-size="23" font-family="Liberation Sans" text-anchor="middle" textLength="45" lengthAdjust="spacingAndGlyphs" transform="translate(1752 1783) rotate(12)" >Ø17</text>
<text x="1727" y="1910.8" font-size="22" font-family="Liberation Sans" fill="#000" textLength="14" lengthAdjust="spacingAndGlyphs" >S</text>
<path d="M1725.7,1922.0 L1771.0,1922.0 L1847.5,1855.6" fill="none" stroke="#000" stroke-width="2.5" />
<polygon points="1847.5,1855.6 1837.2,1871.2 1830.6,1863.6" fill="#000"/>
<text x="1776.7" y="1984.5" font-size="22" font-family="Liberation Sans" fill="#000" textLength="14" lengthAdjust="spacingAndGlyphs" >R</text>
<path d="M1773.9,1996.0 L1819.0,1996.0 L1873.0,1922.0" fill="none" stroke="#000" stroke-width="2.5" />
<polygon points="1873.0,1922.0 1866.4,1939.5 1858.4,1933.6" fill="#000"/>
<text x="2128" y="1957.6" font-size="22" font-family="Liberation Sans" fill="#000" textLength="31" lengthAdjust="spacingAndGlyphs" >NC</text>
<path d="M2160.8,1967.5 L2097.0,1967.5 L2041.7,1858.4" fill="none" stroke="#000" stroke-width="2.5" />
<polygon points="2041.7,1858.4 2054.3,1872.2 2045.4,1876.7" fill="#000"/>
<text x="1958" y="2056.8" font-size="22" font-family="Liberation Sans" fill="#000" textLength="115" lengthAdjust="spacingAndGlyphs" >Ø1 (4 pins)</text>
<path d="M2074.3,2068.0 L1929.7,2068.0 L1880.0,1922.0" fill="none" stroke="#000" stroke-width="2.5" />
<polygon points="1880.0,1922.0 1890.5,1937.4 1881.1,1940.7" fill="#000"/>
<text x="304.8" y="2159" font-size="54" font-family="Liberation Sans" fill="#000" textLength="619" lengthAdjust="spacingAndGlyphs" >4-20mA transmitter board</text>
<text x="304.8" y="2186.8" font-size="27" font-family="Liberation Sans" fill="#000" textLength="230" lengthAdjust="spacingAndGlyphs" >with MINI sensor</text>
<rect x="330.4" y="2550" width="46.6" height="72.6" fill="url(#gStand)" stroke="#000" stroke-width="2.5"/>
<rect x="711.7" y="2670" width="46.3" height="63" fill="url(#gStand)" stroke="#000" stroke-width="2.5"/>
<rect x="421.8" y="2580" width="48" height="33" fill="#1a1a1a" stroke="#000" stroke-width="2"/>
<rect x="492" y="2600" width="22.7" height="20" fill="#aaa" stroke="#000" stroke-width="2"/>
<rect x="590" y="2630" width="37" height="23" fill="#1a1a1a" stroke="#000" stroke-width="2"/>
<polygon points="314.0,2542.0 487.0,2427.0 920.0,2554.0 747.0,2669.0" fill="#1f9440" stroke="#000" stroke-width="3" />
<polygon points="314.0,2542.0 747.0,2669.0 747.0,2683.0 314.0,2557.0" fill="#17803a" stroke="#000" stroke-width="3" />
<polygon points="747.0,2669.0 920.0,2554.0 920.0,2568.0 747.0,2683.0" fill="#1a8a3c" stroke="#000" stroke-width="3" />
<path d="M440,2560 L470,2540 L520,2555 L540,2595 M470,2575 L520,2585 L545,2605 M600,2520 L640,2540 L650,2575 M530,2520 L560,2510 L600,2530 M660,2630 L700,2640 L715,2650 M480,2530 L500,2495 M630,2620 L650,2640 M540,2540 L575,2548" fill="none" stroke="#0a0a0a" stroke-width="3.5" stroke-linejoin="round"/>
<rect x="520" y="2565" width="10" height="7" fill="#ddd" stroke="#000" stroke-width="1.5"/>
<rect x="540" y="2575" width="10" height="7" fill="#ddd" stroke="#000" stroke-width="1.5"/>
<rect x="575" y="2580" width="10" height="7" fill="#ddd" stroke="#000" stroke-width="1.5"/>
<rect x="590" y="2587" width="10" height="7" fill="#ddd" stroke="#000" stroke-width="1.5"/>
<rect x="505" y="2523" width="10" height="7" fill="#ddd" stroke="#000" stroke-width="1.5"/>
<rect x="515" y="2520" width="10" height="7" fill="#ddd" stroke="#000" stroke-width="1.5"/>
<rect x="530" y="2530" width="10" height="7" fill="#ddd" stroke="#000" stroke-width="1.5"/>
<polygon points="363.0,2445.0 388.0,2431.0 401.0,2436.0 401.0,2510.0 376.0,2520.0 363.0,2516.0" fill="#1c1c1c" stroke="#000" stroke-width="2.5" />
<polygon points="597.0,2447.0 637.0,2433.0 664.0,2441.0 664.0,2500.0 625.0,2514.0 597.0,2506.0" fill="#1c1c1c" stroke="#000" stroke-width="2.5" />
<line x1="637" y1="2433" x2="637" y2="2490" stroke="#000" stroke-width="0" />
<polygon points="600.0,2520.0 620.0,2513.0 640.0,2518.0 640.0,2535.0 620.0,2542.0 600.0,2536.0" fill="#1c1c1c" stroke="#000" stroke-width="2" />
<polygon points="664.0,2490.0 700.0,2475.6 742.0,2488.0 742.0,2510.0 706.0,2523.5 664.0,2512.0" fill="#bdbdbd" stroke="#000" stroke-width="2.5" />
<polygon points="664.0,2490.0 700.0,2475.6 742.0,2488.0 706.0,2502.0" fill="#d8d8d8" stroke="#000" stroke-width="2" />
<ellipse cx="700" cy="2486" rx="12" ry="6" fill="#1a1a1a" stroke="#000" stroke-width="1.5" />
<rect x="651" y="2503" width="18" height="26" rx="3" fill="#cbbfae" stroke="#000" stroke-width="2"/>
<rect x="695" y="2505" width="21" height="24" rx="3" fill="#cbbfae" stroke="#000" stroke-width="2"/>
<rect x="643.5" y="2531" width="23" height="18" rx="3" fill="#cbbfae" stroke="#000" stroke-width="2"/>
<rect x="690" y="2534" width="21" height="23" rx="3" fill="#cbbfae" stroke="#000" stroke-width="2"/>
<polygon points="566.0,2570.0 605.0,2555.0 630.0,2563.0 630.0,2585.0 592.0,2600.0 566.0,2592.0" fill="#1a1a1a" stroke="#000" stroke-width="2.5" />
<polygon points="590.0,2605.0 625.0,2590.0 643.0,2596.0 643.0,2622.0 608.0,2631.0 590.0,2625.0" fill="#1a1a1a" stroke="#000" stroke-width="2.5" />
<path d="M651,2580 L651,2624 L704,2624 L704,2575 Q690,2555 670,2560 Q655,2565 651,2580 Z" fill="#1a1a1a" stroke="#000" stroke-width="2.5" />
<line x1="668" y1="2624" x2="668" y2="2640" stroke="#000" stroke-width="3" />
<line x1="680" y1="2624" x2="680" y2="2640" stroke="#000" stroke-width="3" />
<line x1="692" y1="2624" x2="692" y2="2640" stroke="#000" stroke-width="3" />
<path d="M400.6,2375 L400.6,2500 A86.7,42 0 0 0 574.0,2500 L574.0,2375 Z" fill="url(#gBody)" stroke="#000" stroke-width="3" />
<path d="M553,2435 L574,2430 L574,2520 L553,2527 Z" fill="#ddd" stroke="#000" stroke-width="2"/>
<line x1="558" y1="2470" x2="558" y2="2520" stroke="#000" stroke-width="3" />
<line x1="566" y1="2470" x2="566" y2="2520" stroke="#000" stroke-width="3" />
<ellipse cx="487.3" cy="2379" rx="86.7" ry="50" fill="url(#gRim)" stroke="#000" stroke-width="3" />
<ellipse cx="489" cy="2373" rx="76" ry="38" fill="#6b4028" stroke="#000" stroke-width="2.5" />
<ellipse cx="489" cy="2369" rx="76" ry="38" fill="#8f5a38" stroke="#000" stroke-width="2.5" />
<ellipse cx="489" cy="2369" rx="64" ry="30" fill="url(#gFilt)" stroke="#000" stroke-width="2.5" />
<polygon points="372.0,2505.6 400.0,2490.0 438.0,2500.0 437.8,2560.0 418.5,2568.0 372.0,2556.0" fill="#c8c8c8" stroke="#000" stroke-width="2.5" />
<polygon points="372.0,2505.6 400.0,2490.0 438.0,2500.0 418.5,2512.0" fill="#e6e6e6" stroke="#000" stroke-width="2.5" />
<line x1="418.5" y1="2512" x2="418.5" y2="2568" stroke="#000" stroke-width="2.5" />
<ellipse cx="348" cy="2531" rx="24" ry="17" fill="url(#gScrew)" stroke="#000" stroke-width="2.5" />
<ellipse cx="735.8" cy="2643" rx="27" ry="18" fill="url(#gScrew)" stroke="#000" stroke-width="2.5" />
<path d="M338,2524 L358,2524 M348,2518 L348,2530 M341,2519 L355,2529 M355,2519 L341,2529" fill="none" stroke="#000" stroke-width="3" />
<path d="M726,2636 L746,2636 M736,2630 L736,2642 M729,2631 L743,2641 M743,2631 L729,2641" fill="none" stroke="#000" stroke-width="3" />
<polygon points="754.5,2492.0 784.0,2468.6 803.8,2474.8 803.8,2490.0 772.0,2508.0 757.0,2511.8" fill="#2233cc" stroke="#000" stroke-width="2.5" />
<polygon points="727.4,2526.5 846.9,2473.6 897.4,2486.5 897.4,2525.0 911.0,2534.0 911.0,2594.0 854.3,2641.8 789.0,2625.0 789.0,2540.0" fill="#3a3a3a" stroke="#000" stroke-width="3" />
<polygon points="727.4,2526.5 846.9,2473.6 795.2,2520.4 789.0,2540.0" fill="#333" stroke="#000" stroke-width="2.5" />
<polygon points="846.9,2473.6 897.4,2486.5 843.2,2535.2 795.2,2520.4" fill="#474747" stroke="#000" stroke-width="2.5" />
<ellipse cx="860" cy="2493" rx="17" ry="9.5" fill="#2a2a2a" stroke="#000" stroke-width="2.5" transform="rotate(-12 860 2493)"/>
<ellipse cx="832" cy="2515" rx="17" ry="9.5" fill="#2a2a2a" stroke="#000" stroke-width="2.5" transform="rotate(-12 832 2515)"/>
<polygon points="795.2,2520.4 843.2,2535.2 848.8,2580.8 854.3,2641.8 789.0,2625.0 789.0,2540.0" fill="#3c3c3c" stroke="#000" stroke-width="2.5" />
<polygon points="897.4,2486.5 897.4,2525.0 848.8,2580.8 843.2,2535.2" fill="#404040" stroke="#000" stroke-width="2.5" />
<polygon points="848.8,2580.8 911.0,2534.0 911.0,2594.0 854.3,2641.8" fill="#363636" stroke="#000" stroke-width="2.5" />
<polygon points="855.5,2583.0 880.0,2568.4 880.0,2612.8 855.5,2632.5" fill="#222" stroke="#000" stroke-width="2.5" />
<polygon points="885.0,2562.0 908.5,2543.8 908.5,2593.0 885.0,2607.9" fill="#222" stroke="#000" stroke-width="2.5" />
<polygon points="731.0,2593.0 760.0,2588.0 790.0,2605.4 790.0,2635.0 760.0,2640.0 731.0,2622.7" fill="#1a1a1a" stroke="#000" stroke-width="2.5" />
<line x1="760" y1="2600" x2="760" y2="2640" stroke="#000" stroke-width="2" />
<rect x="743.7" y="2534" width="8" height="66" rx="3" fill="#d0d0d0" stroke="#000" stroke-width="2"/>
<rect x="768.4" y="2534" width="8" height="66" rx="3" fill="#d0d0d0" stroke="#000" stroke-width="2"/>
<line x1="723.7" y1="2541" x2="796" y2="2560" stroke="#000" stroke-width="3.5" />
<clipPath id="cpD"><circle cx="910.2" cy="2319" r="143"/></clipPath>
<circle cx="910.2" cy="2319" r="143" fill="#fff" stroke="none" stroke-width="0" />
<g clip-path="url(#cpD)">
<polygon points="760.0,2262.0 846.0,2258.0 1030.0,2330.0 1025.3,2344.8 896.8,2457.6 760.0,2470.0" fill="#22a040" stroke="#000" stroke-width="2.5" />
<polygon points="896.8,2457.6 1025.3,2344.8 1030.0,2352.0 900.0,2468.0" fill="#1a8a38" stroke="#000" stroke-width="2.5" />
<path d="M770,2300 L790,2290 M775,2352 L800,2365 L790,2380 M812,2330 L826,2345 M850,2360 L870,2372 M780,2440 L820,2450 M860,2330 L880,2318 M770,2400 L786,2420" fill="none" stroke="#0a0a0a" stroke-width="4" stroke-linecap="round"/>
<polygon points="767.0,2237.6 802.5,2226.0 802.5,2326.0 767.0,2340.0" fill="#1a1a1a" stroke="#000" stroke-width="2.5" />
<polygon points="802.5,2284.0 835.0,2272.8 850.0,2278.0 850.0,2300.0 817.0,2312.0 802.5,2307.9" fill="#c0c0c0" stroke="#000" stroke-width="2.5" />
<ellipse cx="836.7" cy="2282" rx="9" ry="6" fill="#1a1a1a" stroke="#000" stroke-width="1.5" />
<rect x="789.6" y="2304" width="20.4" height="24" rx="3" fill="#cbbfae" stroke="#000" stroke-width="2"/>
<rect x="780" y="2330" width="26" height="18.5" rx="3" fill="#cbbfae" stroke="#000" stroke-width="2"/>
<rect x="826.5" y="2333.8" width="24" height="24" rx="3" fill="#cbbfae" stroke="#000" stroke-width="2"/>
<rect x="832" y="2306" width="16.7" height="20" rx="3" fill="#cbbfae" stroke="#000" stroke-width="2"/>
<path d="M789.6,2380 Q795,2359.6 815,2359.6 Q843,2359.6 843,2380 L843,2426 L789.6,2426 Z" fill="#161616" stroke="#000" stroke-width="2.5" />
<rect x="847" y="2389" width="22" height="11" fill="#ccc" stroke="#000" stroke-width="2"/>
<rect x="963.3" y="2385.5" width="44.4" height="60" fill="url(#gStand)" stroke="#000" stroke-width="2.5"/>
<ellipse cx="1002" cy="2338" rx="13" ry="16" fill="#bbb" stroke="#000" stroke-width="2" />
<polygon points="933.8,2376.3 1000.3,2333.8 1007.7,2343.0 1007.7,2361.5 950.4,2405.8 933.8,2405.8" fill="#505050" stroke="#000" stroke-width="2.5" />
<polygon points="846.0,2260.7 902.3,2213.6 944.0,2213.6 1005.8,2231.2 1006.8,2307.9 950.4,2354.0 950.4,2376.0 933.8,2376.3 933.8,2405.0 880.0,2398.0 846.0,2262.0" fill="#3a3a3a" stroke="#000" stroke-width="3" />
<polygon points="890.3,2263.5 944.0,2213.6 1005.8,2231.2 951.3,2280.0" fill="#444" stroke="#000" stroke-width="2.5" />
<polygon points="900.5,2260.7 923.6,2241.3 965.2,2254.3 943.0,2273.7" fill="#2e2e2e" stroke="#000" stroke-width="2.5" />
<polygon points="927.3,2233.0 945.8,2216.4 992.0,2229.3 972.6,2246.9" fill="#2e2e2e" stroke="#000" stroke-width="2.5" />
<line x1="951.3" y1="2280" x2="951.3" y2="2354" stroke="#000" stroke-width="2.5" />
<line x1="951.3" y1="2280" x2="1005.8" y2="2231.2" stroke="#000" stroke-width="0" />
<line x1="846" y1="2260.7" x2="890.3" y2="2263.5" stroke="#000" stroke-width="2.5" />
<rect x="876.5" y="2317" width="11" height="80" fill="#2a2a2a" stroke="#000" stroke-width="2"/>
<polygon points="869.0,2396.6 900.0,2392.0 926.4,2400.0 926.4,2437.0 898.0,2442.0 869.0,2433.0" fill="#1a1a1a" stroke="#000" stroke-width="2.5" />
<line x1="898" y1="2400" x2="898" y2="2442" stroke="#000" stroke-width="2" />
<rect x="881.2" y="2330" width="9" height="68" rx="4" fill="#d0d0d0" stroke="#000" stroke-width="2"/>
<rect x="906.1" y="2330" width="9" height="68" rx="4" fill="#d0d0d0" stroke="#000" stroke-width="2"/>
<path d="M847,2459.5 Q847,2426 873.8,2426 Q900.5,2426 900.5,2459.5 Z" fill="url(#gScrew)" stroke="#000" stroke-width="2.5" />
<path d="M865,2432 L882,2440 M873,2428 L873,2444 M866,2440 L881,2432" fill="none" stroke="#000" stroke-width="3" />
</g>
<circle cx="910.2" cy="2319" r="143" fill="none" stroke="#000" stroke-width="3" />
<rect x="1120" y="2128.3" width="500.4000000000001" height="280.6999999999998" fill="#25b048" stroke="#000" stroke-width="4"/>
<path d="M1185,2155 L1185,2200 L1198,2148 M1210,2153 L1281,2153 M1298,2131 L1298,2145 L1325,2175 L1325,2190 M1320,2136 L1336,2136 M1364,2160 L1375,2175 L1386,2175 M1364,2173 L1386,2173 M1452,2135 L1470,2135 L1473,2145 M1486,2140 L1495,2150 L1500,2160 L1490,2165 M1409,2200 L1410,2192 L1428,2190 M1378,2200 L1396,2198 L1396,2218 L1412,2232 M1405,2225 L1436,2225 M1449,2210 L1458,2215 M1464,2168 L1470,2200 L1463,2225 M1474,2215 L1474,2198 L1508,2184 M1483,2200 L1508,2200 M1484,2235 L1484,2240 M1357,2255 L1357,2290 L1390,2312 M1355,2310 L1392,2335 L1382,2350 M1415,2252 L1417,2310 M1453,2237 L1455,2301 M1460,2249 L1490,2252 L1497,2275 M1474,2305 L1496,2280 M1393,2308 L1470,2308 L1475,2300 M1444,2325 L1462,2325 M1410,2372 L1410,2383 M1361,2346 L1363,2380 L1394,2402 L1430,2402 M1481,2360 L1505,2345 M1473,2351 L1473,2374 M1487,2372 L1505,2372 M1512,2363 L1522,2355 M1296,2290 L1330,2320 L1340,2330 M1296,2300 L1325,2345 L1330,2360 M1150,2310 L1150,2330 M1185,2330 L1185,2363 M1200,2340 L1200,2363 M1265,2355 L1300,2360 L1310,2370 M1275,2362 L1290,2370 M1255,2395 L1285,2405 M1535,2140 L1540,2140 M1548,2200 L1550,2194 M1535,2255 L1535,2300 L1545,2310" fill="none" stroke="#0a0a0a" stroke-width="3.5" stroke-linejoin="round" stroke-linecap="round"/>
<rect x="1337" y="2133" width="26" height="80" fill="#333" stroke="#000" stroke-width="2.5"/>
<rect x="1350" y="2217" width="38" height="14" fill="#333" stroke="#000" stroke-width="2"/>
<rect x="1355" y="2232" width="10" height="10" fill="#c8c8c8" stroke="#000" stroke-width="1.5"/>
<rect x="1376" y="2232" width="10" height="10" fill="#c8c8c8" stroke="#000" stroke-width="1.5"/>
<rect x="1386" y="2132" width="66" height="39" fill="#c2c2c0" stroke="#000" stroke-width="2.5"/>
<circle cx="1419" cy="2151.5" r="11" fill="#333" stroke="#000" stroke-width="2" />
<rect x="1510" y="2143" width="22" height="56" fill="#4450e8" stroke="#000" stroke-width="2.5"/>
<rect x="1540" y="2137" width="17" height="29" fill="#eee" stroke="#000" stroke-width="2"/>
<rect x="1542" y="2184" width="28" height="10" fill="#333" stroke="#000" stroke-width="1.5"/>
<rect x="1122.5" y="2250" width="27.5" height="63" fill="#333" stroke="#000" stroke-width="2.5"/>
<rect x="1185.5" y="2364" width="51.5" height="40" fill="#e4e4e4" stroke="#000" stroke-width="2.5"/>
<rect x="1375.6" y="2317" width="69" height="56" fill="#333" stroke="#000" stroke-width="2.5"/>
<rect x="1368" y="2320.0" width="8" height="9" fill="#aaa" stroke="#000" stroke-width="1"/>
<rect x="1444" y="2320.0" width="8" height="9" fill="#aaa" stroke="#000" stroke-width="1"/>
<rect x="1368" y="2333.5" width="8" height="9" fill="#aaa" stroke="#000" stroke-width="1"/>
<rect x="1444" y="2333.5" width="8" height="9" fill="#aaa" stroke="#000" stroke-width="1"/>
<rect x="1368" y="2347.0" width="8" height="9" fill="#aaa" stroke="#000" stroke-width="1"/>
<rect x="1444" y="2347.0" width="8" height="9" fill="#aaa" stroke="#000" stroke-width="1"/>
<rect x="1368" y="2360.5" width="8" height="9" fill="#aaa" stroke="#000" stroke-width="1"/>
<rect x="1444" y="2360.5" width="8" height="9" fill="#aaa" stroke="#000" stroke-width="1"/>
<rect x="1428" y="2374" width="60" height="30" fill="#333" stroke="#000" stroke-width="2.5"/>
<path d="M1506,2404 L1506,2380 Q1506,2365 1530,2365 Q1558,2365 1558,2385 L1558,2404 Z" fill="#333" stroke="#000" stroke-width="2.5" />
<rect x="1473" y="2140" width="13" height="30" fill="#3a3a3a" stroke="#000" stroke-width="2"/>
<rect x="1474" y="2142" width="11" height="4" fill="#ddd"/>
<rect x="1436.6" y="2198" width="12.4" height="29" fill="#3a3a3a" stroke="#000" stroke-width="2"/>
<rect x="1437.6" y="2200" width="10.4" height="4" fill="#ddd"/>
<rect x="1495.5" y="2212" width="17" height="40" fill="#3a3a3a" stroke="#000" stroke-width="2"/>
<rect x="1496.5" y="2214" width="15" height="4" fill="#ddd"/>
<rect x="1495.5" y="2267" width="17" height="41" fill="#3a3a3a" stroke="#000" stroke-width="2"/>
<rect x="1496.5" y="2269" width="15" height="4" fill="#ddd"/>
<rect x="1492" y="2323" width="17" height="41" fill="#3a3a3a" stroke="#000" stroke-width="2"/>
<rect x="1493" y="2325" width="15" height="4" fill="#ddd"/>
<rect x="1522" y="2212" width="13.5" height="30" fill="#3a3a3a" stroke="#000" stroke-width="2"/>
<rect x="1523" y="2214" width="11.5" height="4" fill="#ddd"/>
<rect x="1522" y="2252" width="13.5" height="30" fill="#3a3a3a" stroke="#000" stroke-width="2"/>
<rect x="1523" y="2254" width="11.5" height="4" fill="#ddd"/>
<rect x="1522" y="2290" width="13.5" height="28" fill="#3a3a3a" stroke="#000" stroke-width="2"/>
<rect x="1523" y="2292" width="11.5" height="4" fill="#ddd"/>
<rect x="1522" y="2328" width="13.5" height="29" fill="#3a3a3a" stroke="#000" stroke-width="2"/>
<rect x="1523" y="2330" width="11.5" height="4" fill="#ddd"/>
<rect x="1332" y="2369" width="13" height="30" fill="#3a3a3a" stroke="#000" stroke-width="2"/>
<rect x="1333" y="2371" width="11" height="4" fill="#ddd"/>
<rect x="1288.5" y="2370" width="12" height="30" fill="#3a3a3a" stroke="#000" stroke-width="2"/>
<rect x="1289.5" y="2372" width="10" height="4" fill="#ddd"/>
<rect x="1428" y="2175" width="29" height="13" fill="#d6cbb8" stroke="#000" stroke-width="2"/>
<rect x="1396" y="2189" width="12" height="29" fill="#d6cbb8" stroke="#000" stroke-width="2"/>
<rect x="1461" y="2222.6" width="12" height="29.4" fill="#d6cbb8" stroke="#000" stroke-width="2"/>
<rect x="1405" y="2238" width="29" height="13" fill="#d6cbb8" stroke="#000" stroke-width="2"/>
<rect x="1460" y="2320" width="13" height="31" fill="#d6cbb8" stroke="#000" stroke-width="2"/>
<rect x="1198" y="2138" width="11" height="10" fill="#c4c4c4" stroke="#000" stroke-width="1.5"/>
<rect x="1198" y="2153" width="11" height="10" fill="#c4c4c4" stroke="#000" stroke-width="1.5"/>
<rect x="1198" y="2168" width="11" height="10" fill="#c4c4c4" stroke="#000" stroke-width="1.5"/>
<rect x="1335" y="2242" width="11" height="10" fill="#c4c4c4" stroke="#000" stroke-width="1.5"/>
<rect x="1335" y="2257" width="11" height="10" fill="#c4c4c4" stroke="#000" stroke-width="1.5"/>
<rect x="1335" y="2272" width="11" height="10" fill="#c4c4c4" stroke="#000" stroke-width="1.5"/>
<rect x="1126.5" y="2330" width="11" height="10" fill="#c4c4c4" stroke="#000" stroke-width="1.5"/>
<rect x="1141" y="2330" width="11" height="10" fill="#c4c4c4" stroke="#000" stroke-width="1.5"/>
<rect x="1156" y="2330" width="11" height="10" fill="#c4c4c4" stroke="#000" stroke-width="1.5"/>
<rect x="1310" y="2372" width="11" height="10" fill="#c4c4c4" stroke="#000" stroke-width="1.5"/>
<rect x="1310" y="2387" width="11" height="10" fill="#c4c4c4" stroke="#000" stroke-width="1.5"/>
<text x="1369" y="2292" font-size="24" font-family="Liberation Sans" fill="#111" font-weight="bold" textLength="38" lengthAdjust="spacingAndGlyphs" >V11</text>
<circle cx="1239" cy="2267.4" r="86.8" fill="#d8d8d4" stroke="#000" stroke-width="2.5" />
<circle cx="1239" cy="2267.4" r="69" fill="none" stroke="#8a5530" stroke-width="14" />
<circle cx="1239" cy="2267.4" r="76" fill="none" stroke="#000" stroke-width="2.5" />
<circle cx="1239" cy="2267.4" r="62" fill="url(#gFilt2)" stroke="#000" stroke-width="2.5" />
<circle cx="1239" cy="2267.4" r="38.6" fill="#cdc7bf" stroke="none" stroke-width="0" />
<rect x="1236.5" y="2228.8" width="5" height="77" fill="#b3a596"/>
<rect x="1200.4" y="2264.9" width="77" height="5" fill="#b3a596"/>
<rect x="1538" y="2194" width="82" height="120" fill="#8a8a8a" stroke="#000" stroke-width="2.5"/>
<rect x="1538" y="2194" width="82" height="9" fill="#555" stroke="#000" stroke-width="2"/>
<rect x="1538" y="2305" width="82" height="9" fill="#555" stroke="#000" stroke-width="2"/>
<rect x="1620" y="2200" width="69.5" height="114" fill="#a0a0a0" stroke="#000" stroke-width="2.5"/>
<line x1="1680" y1="2200" x2="1680" y2="2314" stroke="#000" stroke-width="2" />
<line x1="1684" y1="2200" x2="1684" y2="2314" stroke="#000" stroke-width="2" />
<circle cx="1584.6" cy="2228.8" r="13" fill="#777" stroke="#000" stroke-width="2.5" />
<circle cx="1584.6" cy="2228.8" r="5" fill="#ccc" stroke="none" stroke-width="0" />
<circle cx="1647.6" cy="2228.8" r="18" fill="url(#gScrew)" stroke="#000" stroke-width="2.5" />
<line x1="1647.6" y1="2228.8" x2="1655.6999999999998" y2="2228.8" stroke="#000" stroke-width="3" />
<line x1="1647.6" y1="2228.8" x2="1653.3275649276109" y2="2234.5275649276114" stroke="#000" stroke-width="3" />
<line x1="1647.6" y1="2228.8" x2="1647.6" y2="2236.9" stroke="#000" stroke-width="3" />
<line x1="1647.6" y1="2228.8" x2="1641.872435072389" y2="2234.5275649276114" stroke="#000" stroke-width="3" />
<line x1="1647.6" y1="2228.8" x2="1639.5" y2="2228.8" stroke="#000" stroke-width="3" />
<line x1="1647.6" y1="2228.8" x2="1641.872435072389" y2="2223.072435072389" stroke="#000" stroke-width="3" />
<line x1="1647.6" y1="2228.8" x2="1647.6" y2="2220.7000000000003" stroke="#000" stroke-width="3" />
<line x1="1647.6" y1="2228.8" x2="1653.3275649276109" y2="2223.072435072389" stroke="#000" stroke-width="3" />
<circle cx="1647.6" cy="2228.8" r="3" fill="#fff" stroke="none" stroke-width="0" />
<circle cx="1584.6" cy="2283.7" r="13" fill="#777" stroke="#000" stroke-width="2.5" />
<circle cx="1584.6" cy="2283.7" r="5" fill="#ccc" stroke="none" stroke-width="0" />
<circle cx="1647.6" cy="2283.7" r="18" fill="url(#gScrew)" stroke="#000" stroke-width="2.5" />
<line x1="1647.6" y1="2283.7" x2="1655.6999999999998" y2="2283.7" stroke="#000" stroke-width="3" />
<line x1="1647.6" y1="2283.7" x2="1653.3275649276109" y2="2289.427564927611" stroke="#000" stroke-width="3" />
<line x1="1647.6" y1="2283.7" x2="1647.6" y2="2291.7999999999997" stroke="#000" stroke-width="3" />
<line x1="1647.6" y1="2283.7" x2="1641.872435072389" y2="2289.427564927611" stroke="#000" stroke-width="3" />
<line x1="1647.6" y1="2283.7" x2="1639.5" y2="2283.7" stroke="#000" stroke-width="3" />
<line x1="1647.6" y1="2283.7" x2="1641.872435072389" y2="2277.9724350723886" stroke="#000" stroke-width="3" />
<line x1="1647.6" y1="2283.7" x2="1647.6" y2="2275.6" stroke="#000" stroke-width="3" />
<line x1="1647.6" y1="2283.7" x2="1653.3275649276109" y2="2277.9724350723886" stroke="#000" stroke-width="3" />
<circle cx="1647.6" cy="2283.7" r="3" fill="#fff" stroke="none" stroke-width="0" />
<rect x="1562" y="2320" width="58" height="26.7" fill="#333" stroke="#000" stroke-width="2"/>
<rect x="1571" y="2328" width="8" height="8" fill="#ddd"/><rect x="1601" y="2328" width="8" height="8" fill="#ddd"/>
<circle cx="1149.5" cy="2157.6" r="26.4" fill="url(#gScrew)" stroke="#000" stroke-width="2.5" />
<line x1="1149.5" y1="2157.6" x2="1161.38" y2="2157.6" stroke="#000" stroke-width="3" />
<line x1="1149.5" y1="2157.6" x2="1157.9004285604963" y2="2166.000428560496" stroke="#000" stroke-width="3" />
<line x1="1149.5" y1="2157.6" x2="1149.5" y2="2169.48" stroke="#000" stroke-width="3" />
<line x1="1149.5" y1="2157.6" x2="1141.0995714395037" y2="2166.000428560496" stroke="#000" stroke-width="3" />
<line x1="1149.5" y1="2157.6" x2="1137.62" y2="2157.6" stroke="#000" stroke-width="3" />
<line x1="1149.5" y1="2157.6" x2="1141.0995714395037" y2="2149.199571439504" stroke="#000" stroke-width="3" />
<line x1="1149.5" y1="2157.6" x2="1149.5" y2="2145.72" stroke="#000" stroke-width="3" />
<line x1="1149.5" y1="2157.6" x2="1157.9004285604963" y2="2149.199571439504" stroke="#000" stroke-width="3" />
<circle cx="1149.5" cy="2157.6" r="3" fill="#fff" stroke="none" stroke-width="0" />
<circle cx="1590.7" cy="2157.6" r="26.4" fill="url(#gScrew)" stroke="#000" stroke-width="2.5" />
<line x1="1590.7" y1="2157.6" x2="1602.5800000000002" y2="2157.6" stroke="#000" stroke-width="3" />
<line x1="1590.7" y1="2157.6" x2="1599.1004285604963" y2="2166.000428560496" stroke="#000" stroke-width="3" />
<line x1="1590.7" y1="2157.6" x2="1590.7" y2="2169.48" stroke="#000" stroke-width="3" />
<line x1="1590.7" y1="2157.6" x2="1582.2995714395038" y2="2166.000428560496" stroke="#000" stroke-width="3" />
<line x1="1590.7" y1="2157.6" x2="1578.82" y2="2157.6" stroke="#000" stroke-width="3" />
<line x1="1590.7" y1="2157.6" x2="1582.2995714395038" y2="2149.199571439504" stroke="#000" stroke-width="3" />
<line x1="1590.7" y1="2157.6" x2="1590.7" y2="2145.72" stroke="#000" stroke-width="3" />
<line x1="1590.7" y1="2157.6" x2="1599.1004285604963" y2="2149.199571439504" stroke="#000" stroke-width="3" />
<circle cx="1590.7" cy="2157.6" r="3" fill="#fff" stroke="none" stroke-width="0" />
<circle cx="1149.5" cy="2381" r="26.4" fill="url(#gScrew)" stroke="#000" stroke-width="2.5" />
<line x1="1149.5" y1="2381" x2="1161.38" y2="2381.0" stroke="#000" stroke-width="3" />
<line x1="1149.5" y1="2381" x2="1157.9004285604963" y2="2389.400428560496" stroke="#000" stroke-width="3" />
<line x1="1149.5" y1="2381" x2="1149.5" y2="2392.88" stroke="#000" stroke-width="3" />
<line x1="1149.5" y1="2381" x2="1141.0995714395037" y2="2389.400428560496" stroke="#000" stroke-width="3" />
<line x1="1149.5" y1="2381" x2="1137.62" y2="2381.0" stroke="#000" stroke-width="3" />
<line x1="1149.5" y1="2381" x2="1141.0995714395037" y2="2372.599571439504" stroke="#000" stroke-width="3" />
<line x1="1149.5" y1="2381" x2="1149.5" y2="2369.12" stroke="#000" stroke-width="3" />
<line x1="1149.5" y1="2381" x2="1157.9004285604963" y2="2372.599571439504" stroke="#000" stroke-width="3" />
<circle cx="1149.5" cy="2381" r="3" fill="#fff" stroke="none" stroke-width="0" />
<circle cx="1590.7" cy="2381" r="26.4" fill="url(#gScrew)" stroke="#000" stroke-width="2.5" />
<line x1="1590.7" y1="2381" x2="1602.5800000000002" y2="2381.0" stroke="#000" stroke-width="3" />
<line x1="1590.7" y1="2381" x2="1599.1004285604963" y2="2389.400428560496" stroke="#000" stroke-width="3" />
<line x1="1590.7" y1="2381" x2="1590.7" y2="2392.88" stroke="#000" stroke-width="3" />
<line x1="1590.7" y1="2381" x2="1582.2995714395038" y2="2389.400428560496" stroke="#000" stroke-width="3" />
<line x1="1590.7" y1="2381" x2="1578.82" y2="2381.0" stroke="#000" stroke-width="3" />
<line x1="1590.7" y1="2381" x2="1582.2995714395038" y2="2372.599571439504" stroke="#000" stroke-width="3" />
<line x1="1590.7" y1="2381" x2="1590.7" y2="2369.12" stroke="#000" stroke-width="3" />
<line x1="1590.7" y1="2381" x2="1599.1004285604963" y2="2372.599571439504" stroke="#000" stroke-width="3" />
<circle cx="1590.7" cy="2381" r="3" fill="#fff" stroke="none" stroke-width="0" />
<line x1="1120" y1="2080" x2="1120" y2="2128" stroke="#000" stroke-width="2.5" />
<line x1="1620.4" y1="2080" x2="1620.4" y2="2128" stroke="#000" stroke-width="2.5" />
<line x1="1120" y1="2087.7" x2="1620.4" y2="2087.7" stroke="#000" stroke-width="2.5" />
<polygon points="1620.4,2087.7 1600.4,2092.7 1600.4,2082.7" fill="#000"/>
<polygon points="1120.0,2087.7 1140.0,2082.7 1140.0,2092.7" fill="#000"/>
<text x="1348" y="2079.5" font-size="23" font-family="Liberation Sans" fill="#000" textLength="45" lengthAdjust="spacingAndGlyphs" >44.5</text>
<line x1="1149.5" y1="2105" x2="1149.5" y2="2157.6" stroke="#000" stroke-width="2.5" />
<line x1="1590.7" y1="2105" x2="1590.7" y2="2157.6" stroke="#000" stroke-width="2.5" />
<line x1="1149.5" y1="2116" x2="1590.7" y2="2116" stroke="#000" stroke-width="2.5" />
<polygon points="1590.7,2116.0 1570.7,2121.0 1570.7,2111.0" fill="#000"/>
<polygon points="1149.5,2116.0 1169.5,2111.0 1169.5,2121.0" fill="#000"/>
<text x="1348" y="2108.8" font-size="23" font-family="Liberation Sans" fill="#000" textLength="45" lengthAdjust="spacingAndGlyphs" >39.3</text>
<line x1="1063" y1="2128.3" x2="1118" y2="2128.3" stroke="#000" stroke-width="2.5" />
<line x1="1063" y1="2409" x2="1118" y2="2409" stroke="#000" stroke-width="2.5" />
<line x1="1076" y1="2128.3" x2="1076" y2="2409" stroke="#000" stroke-width="2.5" />
<polygon points="1076.0,2409.0 1071.0,2389.0 1081.0,2389.0" fill="#000"/>
<polygon points="1076.0,2128.3 1081.0,2148.3 1071.0,2148.3" fill="#000"/>
<text x="0" y="0" font-size="23" font-family="Liberation Sans" text-anchor="middle" textLength="23" lengthAdjust="spacingAndGlyphs" transform="translate(1072 2268) rotate(-90)" >25</text>
<line x1="1097" y1="2157.6" x2="1149.5" y2="2157.6" stroke="#000" stroke-width="2.5" />
<line x1="1097" y1="2381" x2="1149.5" y2="2381" stroke="#000" stroke-width="2.5" />
<line x1="1108.8" y1="2157.6" x2="1108.8" y2="2381" stroke="#000" stroke-width="2.5" />
<polygon points="1108.8,2381.0 1103.8,2361.0 1113.8,2361.0" fill="#000"/>
<polygon points="1108.8,2157.6 1113.8,2177.6 1103.8,2177.6" fill="#000"/>
<text x="0" y="0" font-size="23" font-family="Liberation Sans" text-anchor="middle" textLength="42" lengthAdjust="spacingAndGlyphs" transform="translate(1103 2269) rotate(-90)" >19.9</text>
<line x1="1689.5" y1="2175" x2="1689.5" y2="2200" stroke="#000" stroke-width="2.5" />
<line x1="1620.4" y1="2188" x2="1689.5" y2="2188" stroke="#000" stroke-width="2.5" />
<polygon points="1689.5,2188.0 1671.5,2192.5 1671.5,2183.5" fill="#000"/>
<polygon points="1620.4,2188.0 1638.4,2183.5 1638.4,2192.5" fill="#000"/>
<text x="1638" y="2180" font-size="23" font-family="Liberation Sans" fill="#000" textLength="32" lengthAdjust="spacingAndGlyphs" >6.2</text>
<line x1="1120" y1="2409" x2="1120" y2="2450" stroke="#000" stroke-width="2.5" />
<line x1="1239" y1="2267" x2="1239" y2="2450" stroke="#000" stroke-width="2.5" />
<line x1="1120" y1="2440" x2="1239" y2="2440" stroke="#000" stroke-width="2.5" />
<polygon points="1239.0,2440.0 1221.0,2444.5 1221.0,2435.5" fill="#000"/>
<polygon points="1120.0,2440.0 1138.0,2435.5 1138.0,2444.5" fill="#000"/>
<text x="1159.6" y="2432" font-size="23" font-family="Liberation Sans" fill="#000" textLength="43" lengthAdjust="spacingAndGlyphs" >10.6</text>
<rect x="1123" y="2673" width="53" height="66" fill="url(#gStand)" stroke="#000" stroke-width="2.5"/>
<rect x="1564" y="2673" width="53" height="66" fill="url(#gStand)" stroke="#000" stroke-width="2.5"/>
<rect x="1190" y="2673" width="30" height="12" fill="#aaa" stroke="#000" stroke-width="2"/>
<rect x="1243" y="2673" width="42" height="17" fill="#222" stroke="#000" stroke-width="2"/>
<rect x="1290" y="2673" width="30" height="14" fill="#c8c0b0" stroke="#000" stroke-width="2"/>
<rect x="1320" y="2673" width="22" height="12" fill="#aaa" stroke="#000" stroke-width="2"/>
<rect x="1370" y="2673" width="50" height="12" fill="#aaa" stroke="#000" stroke-width="2"/>
<rect x="1428" y="2673" width="36.6" height="20" fill="#222" stroke="#000" stroke-width="2"/>
<rect x="1490" y="2673" width="20" height="12" fill="#aaa" stroke="#000" stroke-width="2"/>
<rect x="1515.5" y="2673" width="48.5" height="29.6" fill="#222" stroke="#000" stroke-width="2"/>
<rect x="1470" y="2673" width="40" height="10" fill="#222" stroke="#000" stroke-width="2"/>
<rect x="1216.6" y="2673" width="6" height="33.69999999999982" rx="2" fill="url(#gGold)" stroke="#000" stroke-width="1.5"/>
<rect x="1257.0" y="2673" width="6" height="33.69999999999982" rx="2" fill="url(#gGold)" stroke="#000" stroke-width="1.5"/>
<rect x="1121" y="2603" width="29" height="51" fill="#222" stroke="#000" stroke-width="2"/>
<rect x="1152.7" y="2491" width="173.7" height="160.8" rx="4" fill="url(#gS)" stroke="#000" stroke-width="3"/>
<rect x="1161.7" y="2485" width="154.3" height="6" fill="#8b5a38" stroke="#000" stroke-width="1.5"/>
<rect x="1184" y="2592.8" width="55" height="61" fill="#dcdcdc" stroke="#000" stroke-width="2.5"/>
<path d="M1123,2654 Q1123,2631 1150,2631 Q1178,2631 1178,2654 Z" fill="url(#gScrew)" stroke="#000" stroke-width="2.5" />
<path d="M1564,2654 Q1564,2631 1590,2631 Q1617,2631 1617,2654 Z" fill="url(#gScrew)" stroke="#000" stroke-width="2.5" />
<rect x="1335.7" y="2603" width="29.3" height="51" fill="#222" stroke="#000" stroke-width="2"/>
<rect x="1352.8" y="2639.6" width="32.2" height="14.4" fill="#222" stroke="#000" stroke-width="2"/>
<rect x="1385" y="2633.5" width="47" height="20.5" fill="#222" stroke="#000" stroke-width="2"/>
<rect x="1432" y="2631.5" width="51" height="22.5" fill="#222" stroke="#000" stroke-width="2"/>
<rect x="1493" y="2633.5" width="16" height="20.5" fill="#222" stroke="#000" stroke-width="2"/>
<rect x="1505" y="2576.6" width="53" height="55" fill="#222" stroke="#000" stroke-width="2"/>
<rect x="1512" y="2631" width="8" height="23" fill="#4455dd"/>
<polygon points="1537.8,2564.0 1619.0,2532.0 1678.0,2532.0 1690.0,2582.7 1690.0,2653.8 1537.8,2654.0" fill="#8a8a8a" stroke="#000" stroke-width="2.5" />
<rect x="1562" y="2621" width="57" height="33" fill="#333" stroke="#000" stroke-width="2"/>
<rect x="1572" y="2548" width="8" height="75" rx="3" fill="#d0d0d0" stroke="#000" stroke-width="2"/>
<rect x="1601" y="2548" width="8" height="75" rx="3" fill="#d0d0d0" stroke="#000" stroke-width="2"/>
<rect x="1540" y="2570" width="80" height="8" fill="#777" stroke="#000" stroke-width="1.5"/>
<rect x="1120" y="2653.8" width="500" height="19.2" fill="#22a040" stroke="#000" stroke-width="3"/>
<line x1="1086.4" y1="2739" x2="1666" y2="2739" stroke="#000" stroke-width="2.5" />
<text x="1212.5" y="2729" font-size="23" font-family="Liberation Sans" fill="#000" textLength="337" lengthAdjust="spacingAndGlyphs" >HEX.THREADSPACER IIM2.5/6</text>
<path d="M1182.0,2739.0 L1149.5,2700.6" fill="none" stroke="#000" stroke-width="2.5" />
<polygon points="1149.5,2700.6 1164.9,2711.1 1157.3,2717.6" fill="#000"/>
<line x1="1092" y1="2485" x2="1160" y2="2485" stroke="#000" stroke-width="2.5" />
<line x1="1092" y1="2491" x2="1152.7" y2="2491" stroke="#000" stroke-width="2.5" />
<line x1="1098.6" y1="2452" x2="1098.6" y2="2485" stroke="#000" stroke-width="2.5" />
<polygon points="1098.6,2485.0 1094.1,2467.0 1103.1,2467.0" fill="#000"/>
<line x1="1098.6" y1="2491" x2="1098.6" y2="2739" stroke="#000" stroke-width="2.5" />
<polygon points="1098.6,2739.0 1093.6,2719.0 1103.6,2719.0" fill="#000"/>
<polygon points="1098.6,2491.0 1103.6,2511.0 1093.6,2511.0" fill="#000"/>
<text x="0" y="0" font-size="23" font-family="Liberation Sans" text-anchor="middle" textLength="42" lengthAdjust="spacingAndGlyphs" transform="translate(1086 2611) rotate(-90)" >22.1</text>
<text x="0" y="0" font-size="21" font-family="Liberation Sans" text-anchor="middle" textLength="26" lengthAdjust="spacingAndGlyphs" transform="translate(1087 2487) rotate(-90)" >1*)</text>
<line x1="1617" y1="2673" x2="1666" y2="2673" stroke="#000" stroke-width="2.5" />
<line x1="1653.7" y1="2673" x2="1653.7" y2="2739" stroke="#000" stroke-width="2.5" />
<polygon points="1653.7,2739.0 1649.2,2721.0 1658.2,2721.0" fill="#000"/>
<polygon points="1653.7,2673.0 1658.2,2691.0 1649.2,2691.0" fill="#000"/>
<text x="0" y="0" font-size="23" font-family="Liberation Sans" text-anchor="middle" textLength="13" lengthAdjust="spacingAndGlyphs" transform="translate(1648 2705) rotate(-90)" >6</text>
<text x="1726" y="2146" font-size="31" font-family="Liberation Sans" fill="#000" textLength="340" lengthAdjust="spacingAndGlyphs" >Scale for all products 1:1</text>
<text x="1726" y="2216" font-size="31" font-family="Liberation Sans" fill="#000" >All dimensions in mm</text>
<text x="1726" y="2252" font-size="31" font-family="Liberation Sans" fill="#000" >All tolerances ±0.15mm</text>
<text x="1726" y="2286" font-size="31" font-family="Liberation Sans" fill="#000" >unless otherwise stated</text>
<text x="1726" y="2357" font-size="31" font-family="Liberation Sans" fill="#000" >S</text>
<text x="1782" y="2357" font-size="31" font-family="Liberation Sans" fill="#000" >Sensing</text>
<text x="1726" y="2392" font-size="31" font-family="Liberation Sans" fill="#000" >C</text>
<text x="1783" y="2392" font-size="31" font-family="Liberation Sans" fill="#000" >Counter</text>
<text x="1726" y="2427" font-size="31" font-family="Liberation Sans" fill="#000" >R</text>
<text x="1783" y="2427" font-size="31" font-family="Liberation Sans" fill="#000" >Reference</text>
<text x="1726" y="2462" font-size="31" font-family="Liberation Sans" fill="#000" >NC</text>
<text x="1789" y="2462" font-size="31" font-family="Liberation Sans" fill="#000" >not connected</text>
<text x="1726" y="2533" font-size="31" font-family="Liberation Sans" fill="#000" >Plugs and customized</text>
<text x="1726" y="2568" font-size="31" font-family="Liberation Sans" fill="#000" >adaptations available</text>
<text x="1726" y="2603" font-size="31" font-family="Liberation Sans" fill="#000" >on request</text>
<text x="1726" y="2673" font-size="31" font-family="Liberation Sans"><tspan font-weight="bold">Important Note:</tspan> Connection should</text>
<text x="1726" y="2708" font-size="31" font-family="Liberation Sans" fill="#000" >be made via PCB sockets only.</text>
<text x="1726" y="2744" font-size="31" font-family="Liberation Sans" fill="#000" >Soldering to the pins will render your</text>
<text x="1726" y="2779" font-size="31" font-family="Liberation Sans" fill="#000" >warranty void.</text>
<text x="290" y="2815" font-size="29" font-family="Liberation Sans" fill="#000" textLength="680" lengthAdjust="spacingAndGlyphs" >*) Projection 0.6 - 1.25mm depending on gastype</text>
<text x="290" y="2850" font-size="29" font-family="Liberation Sans" fill="#000" textLength="533" lengthAdjust="spacingAndGlyphs" >**) Projection up to 0.4mm for 4 Series</text>
<text x="290" y="2886" font-size="29" font-family="Liberation Sans" fill="#000" textLength="564" lengthAdjust="spacingAndGlyphs" >***) Projection up to 0,55mm for 7 Series</text>
<text x="238" y="3193" font-size="37" font-family="Liberation Sans" fill="#000" textLength="765" lengthAdjust="spacingAndGlyphs" >Doc. Ref.: ash33e1lt.indd Issue 3&#160; ECN I 2423</text>
<text x="1178" y="3193" font-size="37" font-family="Liberation Sans" fill="#000" textLength="172" lengthAdjust="spacingAndGlyphs" >Page 2 of 3</text>
<text x="238" y="3238" font-size="37" font-family="Liberation Sans">20<tspan font-size="22" dy="-14">th</tspan><tspan dy="14"> June 2011</tspan></text>
<path d="M14,3353 Q1247,3206 2480,3206" fill="none" stroke="#939598" stroke-width="8" />
<text x="191" y="3412" font-size="47" font-family="Liberation Sans" fill="#222" stroke="#222" stroke-width="1.2" textLength="412" lengthAdjust="spacing">www.citytech.com</text>
<text x="921" y="3331" font-size="29" font-family="Liberation Sans" fill="#222" textLength="846" lengthAdjust="spacingAndGlyphs" stroke="#222" stroke-width="0.5">Sensoric Sensors are designed and manufactured in Germany</text>
<text x="921" y="3371" font-size="29" font-family="Liberation Sans" fill="#222" textLength="684" lengthAdjust="spacingAndGlyphs" stroke="#222" stroke-width="0.5">Justus-von-Liebig-Str. 22,D-53121 Bonn, Germany.</text>
<text x="921" y="3412" font-size="29" font-family="Liberation Sans" fill="#222" stroke-width="0.5" stroke="#222" textLength="765" lengthAdjust="spacingAndGlyphs"><tspan fill="#e31c3d" stroke="#e31c3d">Tel</tspan> ++49 (0) 228 52 66 40&#160; <tspan fill="#e31c3d" stroke="#e31c3d">Fax</tspan> ++49 (0) 228 5266439</text>
<rect x="2047" y="3017" width="268" height="310" fill="#fff"/>
<rect x="2040" y="3017" width="275" height="2" fill="#eee"/>
<rect x="2049" y="3030" width="263" height="174" fill="#00719c"/>
<polygon points="2049,3097 2100,3101 2106,3107 2106,3162 2122,3162 2122,3052 2162,3060 2162,3180 2176,3178 2176,3155 2187,3155 2187,3143 2202,3143 2202,3122 2213,3115 2243,3115 2247,3122 2247,3142 2254,3142 2254,3102 2273,3095 2273,3082 2293,3075 2304,3077 2304,3100 2312,3100 2312,3203 2049,3203" fill="#bcbec0"/>
<rect x="2049" y="3203" width="263" height="118" fill="#ed1c2e"/>
<text x="2180" y="3278" font-size="86" font-family="Liberation Serif" fill="#fff" text-anchor="middle" font-weight="bold" textLength="221" lengthAdjust="spacingAndGlyphs" >CITY</text>
<text x="2181" y="3308" font-size="21" font-family="Liberation Sans" text-anchor="middle" fill="#fff" textLength="168" lengthAdjust="spacing">TECHNOLOGY</text>
</svg>
</body></html>
